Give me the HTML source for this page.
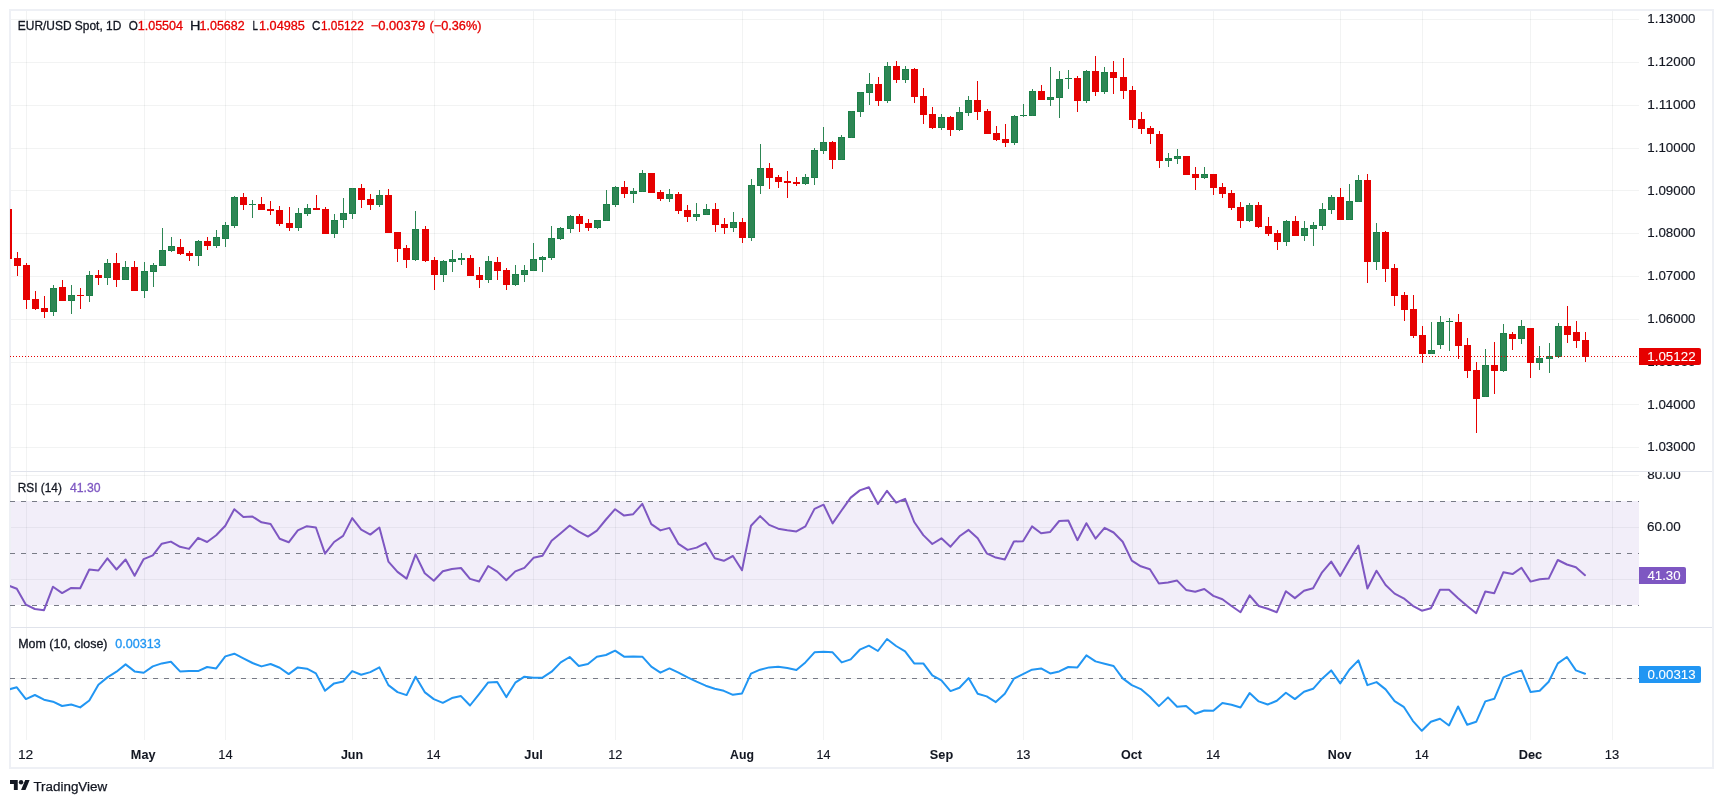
<!DOCTYPE html>
<html><head><meta charset="utf-8"><title>EUR/USD Spot</title>
<style>html,body{margin:0;padding:0;background:#fff}body{width:1723px;height:803px;overflow:hidden}svg{display:block;will-change:transform}text{font-family:"Liberation Sans", sans-serif}</style>
</head><body>
<svg width="1723" height="803" viewBox="0 0 1723 803">
<rect x="0" y="0" width="1723" height="803" fill="#ffffff"/>
<defs><clipPath id="cp"><rect x="10" y="11" width="1629" height="729"/></clipPath><clipPath id="cr"><rect x="1639" y="472" width="74" height="155"/></clipPath></defs>
<g shape-rendering="crispEdges" fill="#2a2e39" fill-opacity="0.06">
<rect x="26" y="11" width="1" height="729"/>
<rect x="144" y="11" width="1" height="729"/>
<rect x="225" y="11" width="1" height="729"/>
<rect x="352" y="11" width="1" height="729"/>
<rect x="434" y="11" width="1" height="729"/>
<rect x="533" y="11" width="1" height="729"/>
<rect x="615" y="11" width="1" height="729"/>
<rect x="742" y="11" width="1" height="729"/>
<rect x="823" y="11" width="1" height="729"/>
<rect x="941" y="11" width="1" height="729"/>
<rect x="1023" y="11" width="1" height="729"/>
<rect x="1132" y="11" width="1" height="729"/>
<rect x="1213" y="11" width="1" height="729"/>
<rect x="1340" y="11" width="1" height="729"/>
<rect x="1422" y="11" width="1" height="729"/>
<rect x="1530" y="11" width="1" height="729"/>
<rect x="1612" y="11" width="1" height="729"/>
<rect x="10" y="19" width="1629" height="1"/>
<rect x="10" y="62" width="1629" height="1"/>
<rect x="10" y="105" width="1629" height="1"/>
<rect x="10" y="148" width="1629" height="1"/>
<rect x="10" y="190" width="1629" height="1"/>
<rect x="10" y="233" width="1629" height="1"/>
<rect x="10" y="276" width="1629" height="1"/>
<rect x="10" y="319" width="1629" height="1"/>
<rect x="10" y="362" width="1629" height="1"/>
<rect x="10" y="404" width="1629" height="1"/>
<rect x="10" y="447" width="1629" height="1"/>
<rect x="10" y="475" width="1629" height="1"/>
<rect x="10" y="527" width="1629" height="1"/>
<rect x="10" y="579" width="1629" height="1"/>
<rect x="10" y="678" width="1629" height="1"/>
</g>
<rect x="10" y="501" width="1629" height="104" fill="#7e57c2" fill-opacity="0.1" shape-rendering="crispEdges"/>
<g shape-rendering="crispEdges" fill="#e0e3eb"><rect x="10" y="471" width="1703" height="1"/><rect x="10" y="627" width="1703" height="1"/></g>
<rect x="10" y="10" width="1703" height="758" fill="none" stroke="#eef0f5" stroke-width="2"/>
<g clip-path="url(#cp)" shape-rendering="crispEdges">
<rect x="8" y="209" width="1" height="50" fill="#e60000"/><rect x="5" y="209" width="7" height="50" fill="#e60000"/>
<rect x="17" y="252" width="1" height="24" fill="#e60000"/><rect x="14" y="258" width="7" height="8" fill="#e60000"/>
<rect x="26" y="263" width="1" height="46" fill="#e60000"/><rect x="23" y="265" width="7" height="35" fill="#e60000"/>
<rect x="35" y="291" width="1" height="19" fill="#e60000"/><rect x="32" y="299" width="7" height="10" fill="#e60000"/>
<rect x="44" y="296" width="1" height="22" fill="#e60000"/><rect x="41" y="308" width="7" height="4" fill="#e60000"/>
<rect x="50" y="288" width="7" height="24" fill="#1b7f47"/>
<rect x="51" y="289" width="5" height="22" fill="#2d8654"/>
<rect x="53" y="285" width="1" height="31" fill="#2d8654"/>
<rect x="62" y="280" width="1" height="21" fill="#e60000"/><rect x="59" y="287" width="7" height="14" fill="#e60000"/>
<rect x="68" y="295" width="7" height="6" fill="#1b7f47"/>
<rect x="69" y="296" width="5" height="4" fill="#2d8654"/>
<rect x="71" y="285" width="1" height="29" fill="#2d8654"/>
<rect x="80" y="288" width="1" height="21" fill="#e60000"/><rect x="77" y="295" width="7" height="1" fill="#e60000"/>
<rect x="86" y="275" width="7" height="21" fill="#1b7f47"/>
<rect x="87" y="276" width="5" height="19" fill="#2d8654"/>
<rect x="89" y="271" width="1" height="31" fill="#2d8654"/>
<rect x="98" y="270" width="1" height="15" fill="#e60000"/><rect x="95" y="275" width="7" height="3" fill="#e60000"/>
<rect x="104" y="263" width="7" height="15" fill="#1b7f47"/>
<rect x="105" y="264" width="5" height="13" fill="#2d8654"/>
<rect x="107" y="259" width="1" height="26" fill="#2d8654"/>
<rect x="116" y="253" width="1" height="34" fill="#e60000"/><rect x="113" y="263" width="7" height="17" fill="#e60000"/>
<rect x="122" y="267" width="7" height="13" fill="#1b7f47"/>
<rect x="123" y="268" width="5" height="11" fill="#2d8654"/>
<rect x="125" y="261" width="1" height="19" fill="#2d8654"/>
<rect x="134" y="261" width="1" height="30" fill="#e60000"/><rect x="131" y="267" width="7" height="24" fill="#e60000"/>
<rect x="141" y="271" width="7" height="20" fill="#1b7f47"/>
<rect x="142" y="272" width="5" height="18" fill="#2d8654"/>
<rect x="144" y="262" width="1" height="36" fill="#2d8654"/>
<rect x="150" y="265" width="7" height="7" fill="#1b7f47"/>
<rect x="151" y="266" width="5" height="5" fill="#2d8654"/>
<rect x="153" y="263" width="1" height="24" fill="#2d8654"/>
<rect x="159" y="250" width="7" height="16" fill="#1b7f47"/>
<rect x="160" y="251" width="5" height="14" fill="#2d8654"/>
<rect x="162" y="228" width="1" height="38" fill="#2d8654"/>
<rect x="168" y="246" width="7" height="5" fill="#1b7f47"/>
<rect x="169" y="247" width="5" height="3" fill="#2d8654"/>
<rect x="171" y="237" width="1" height="15" fill="#2d8654"/>
<rect x="180" y="239" width="1" height="16" fill="#e60000"/><rect x="177" y="247" width="7" height="7" fill="#e60000"/>
<rect x="189" y="251" width="1" height="10" fill="#e60000"/><rect x="186" y="253" width="7" height="3" fill="#e60000"/>
<rect x="195" y="241" width="7" height="15" fill="#1b7f47"/>
<rect x="196" y="242" width="5" height="13" fill="#2d8654"/>
<rect x="198" y="240" width="1" height="26" fill="#2d8654"/>
<rect x="207" y="237" width="1" height="13" fill="#e60000"/><rect x="204" y="241" width="7" height="5" fill="#e60000"/>
<rect x="213" y="237" width="7" height="9" fill="#1b7f47"/>
<rect x="214" y="238" width="5" height="7" fill="#2d8654"/>
<rect x="216" y="230" width="1" height="18" fill="#2d8654"/>
<rect x="222" y="225" width="7" height="14" fill="#1b7f47"/>
<rect x="223" y="226" width="5" height="12" fill="#2d8654"/>
<rect x="225" y="222" width="1" height="25" fill="#2d8654"/>
<rect x="231" y="197" width="7" height="29" fill="#1b7f47"/>
<rect x="232" y="198" width="5" height="27" fill="#2d8654"/>
<rect x="234" y="196" width="1" height="32" fill="#2d8654"/>
<rect x="243" y="193" width="1" height="17" fill="#e60000"/><rect x="240" y="197" width="7" height="8" fill="#e60000"/>
<rect x="249" y="204" width="7" height="1" fill="#1b7f47"/>
<rect x="252" y="200" width="1" height="18" fill="#2d8654"/>
<rect x="261" y="197" width="1" height="13" fill="#e60000"/><rect x="258" y="204" width="7" height="6" fill="#e60000"/>
<rect x="270" y="201" width="1" height="14" fill="#e60000"/><rect x="267" y="209" width="7" height="2" fill="#e60000"/>
<rect x="279" y="206" width="1" height="20" fill="#e60000"/><rect x="276" y="210" width="7" height="14" fill="#e60000"/>
<rect x="289" y="207" width="1" height="24" fill="#e60000"/><rect x="286" y="223" width="7" height="5" fill="#e60000"/>
<rect x="295" y="213" width="7" height="15" fill="#1b7f47"/>
<rect x="296" y="214" width="5" height="13" fill="#2d8654"/>
<rect x="298" y="208" width="1" height="23" fill="#2d8654"/>
<rect x="304" y="208" width="7" height="6" fill="#1b7f47"/>
<rect x="305" y="209" width="5" height="4" fill="#2d8654"/>
<rect x="307" y="204" width="1" height="12" fill="#2d8654"/>
<rect x="316" y="195" width="1" height="15" fill="#e60000"/><rect x="313" y="208" width="7" height="2" fill="#e60000"/>
<rect x="325" y="207" width="1" height="27" fill="#e60000"/><rect x="322" y="209" width="7" height="25" fill="#e60000"/>
<rect x="331" y="220" width="7" height="14" fill="#1b7f47"/>
<rect x="332" y="221" width="5" height="12" fill="#2d8654"/>
<rect x="334" y="214" width="1" height="24" fill="#2d8654"/>
<rect x="340" y="213" width="7" height="7" fill="#1b7f47"/>
<rect x="341" y="214" width="5" height="5" fill="#2d8654"/>
<rect x="343" y="198" width="1" height="30" fill="#2d8654"/>
<rect x="349" y="188" width="7" height="26" fill="#1b7f47"/>
<rect x="350" y="189" width="5" height="24" fill="#2d8654"/>
<rect x="352" y="188" width="1" height="31" fill="#2d8654"/>
<rect x="361" y="184" width="1" height="24" fill="#e60000"/><rect x="358" y="188" width="7" height="12" fill="#e60000"/>
<rect x="370" y="194" width="1" height="16" fill="#e60000"/><rect x="367" y="199" width="7" height="6" fill="#e60000"/>
<rect x="376" y="195" width="7" height="10" fill="#1b7f47"/>
<rect x="377" y="196" width="5" height="8" fill="#2d8654"/>
<rect x="379" y="190" width="1" height="17" fill="#2d8654"/>
<rect x="388" y="189" width="1" height="44" fill="#e60000"/><rect x="385" y="195" width="7" height="38" fill="#e60000"/>
<rect x="397" y="232" width="1" height="30" fill="#e60000"/><rect x="394" y="232" width="7" height="17" fill="#e60000"/>
<rect x="406" y="245" width="1" height="23" fill="#e60000"/><rect x="403" y="248" width="7" height="12" fill="#e60000"/>
<rect x="412" y="229" width="7" height="31" fill="#1b7f47"/>
<rect x="413" y="230" width="5" height="29" fill="#2d8654"/>
<rect x="415" y="211" width="1" height="50" fill="#2d8654"/>
<rect x="425" y="226" width="1" height="36" fill="#e60000"/><rect x="422" y="229" width="7" height="32" fill="#e60000"/>
<rect x="434" y="257" width="1" height="33" fill="#e60000"/><rect x="431" y="260" width="7" height="15" fill="#e60000"/>
<rect x="440" y="261" width="7" height="14" fill="#1b7f47"/>
<rect x="441" y="262" width="5" height="12" fill="#2d8654"/>
<rect x="443" y="260" width="1" height="22" fill="#2d8654"/>
<rect x="449" y="259" width="7" height="3" fill="#1b7f47"/>
<rect x="450" y="260" width="5" height="1" fill="#2d8654"/>
<rect x="452" y="250" width="1" height="22" fill="#2d8654"/>
<rect x="458" y="258" width="7" height="2" fill="#1b7f47"/>
<rect x="461" y="253" width="1" height="12" fill="#2d8654"/>
<rect x="470" y="255" width="1" height="21" fill="#e60000"/><rect x="467" y="258" width="7" height="18" fill="#e60000"/>
<rect x="479" y="267" width="1" height="21" fill="#e60000"/><rect x="476" y="275" width="7" height="5" fill="#e60000"/>
<rect x="485" y="261" width="7" height="19" fill="#1b7f47"/>
<rect x="486" y="262" width="5" height="17" fill="#2d8654"/>
<rect x="488" y="256" width="1" height="27" fill="#2d8654"/>
<rect x="497" y="257" width="1" height="23" fill="#e60000"/><rect x="494" y="262" width="7" height="9" fill="#e60000"/>
<rect x="506" y="268" width="1" height="22" fill="#e60000"/><rect x="503" y="270" width="7" height="15" fill="#e60000"/>
<rect x="512" y="274" width="7" height="11" fill="#1b7f47"/>
<rect x="513" y="275" width="5" height="9" fill="#2d8654"/>
<rect x="515" y="265" width="1" height="21" fill="#2d8654"/>
<rect x="521" y="270" width="7" height="5" fill="#1b7f47"/>
<rect x="522" y="271" width="5" height="3" fill="#2d8654"/>
<rect x="524" y="265" width="1" height="17" fill="#2d8654"/>
<rect x="530" y="259" width="7" height="12" fill="#1b7f47"/>
<rect x="531" y="260" width="5" height="10" fill="#2d8654"/>
<rect x="533" y="243" width="1" height="28" fill="#2d8654"/>
<rect x="539" y="257" width="7" height="3" fill="#1b7f47"/>
<rect x="540" y="258" width="5" height="1" fill="#2d8654"/>
<rect x="542" y="256" width="1" height="16" fill="#2d8654"/>
<rect x="548" y="238" width="7" height="20" fill="#1b7f47"/>
<rect x="549" y="239" width="5" height="18" fill="#2d8654"/>
<rect x="551" y="226" width="1" height="34" fill="#2d8654"/>
<rect x="557" y="228" width="7" height="11" fill="#1b7f47"/>
<rect x="558" y="229" width="5" height="9" fill="#2d8654"/>
<rect x="560" y="227" width="1" height="13" fill="#2d8654"/>
<rect x="567" y="216" width="7" height="13" fill="#1b7f47"/>
<rect x="568" y="217" width="5" height="11" fill="#2d8654"/>
<rect x="570" y="215" width="1" height="18" fill="#2d8654"/>
<rect x="579" y="214" width="1" height="18" fill="#e60000"/><rect x="576" y="216" width="7" height="8" fill="#e60000"/>
<rect x="588" y="219" width="1" height="12" fill="#e60000"/><rect x="585" y="223" width="7" height="5" fill="#e60000"/>
<rect x="594" y="220" width="7" height="8" fill="#1b7f47"/>
<rect x="595" y="221" width="5" height="6" fill="#2d8654"/>
<rect x="597" y="220" width="1" height="9" fill="#2d8654"/>
<rect x="603" y="204" width="7" height="17" fill="#1b7f47"/>
<rect x="604" y="205" width="5" height="15" fill="#2d8654"/>
<rect x="606" y="190" width="1" height="31" fill="#2d8654"/>
<rect x="612" y="187" width="7" height="18" fill="#1b7f47"/>
<rect x="613" y="188" width="5" height="16" fill="#2d8654"/>
<rect x="615" y="186" width="1" height="21" fill="#2d8654"/>
<rect x="624" y="181" width="1" height="17" fill="#e60000"/><rect x="621" y="187" width="7" height="7" fill="#e60000"/>
<rect x="630" y="191" width="7" height="3" fill="#1b7f47"/>
<rect x="631" y="192" width="5" height="1" fill="#2d8654"/>
<rect x="633" y="188" width="1" height="15" fill="#2d8654"/>
<rect x="639" y="173" width="7" height="19" fill="#1b7f47"/>
<rect x="640" y="174" width="5" height="17" fill="#2d8654"/>
<rect x="642" y="170" width="1" height="22" fill="#2d8654"/>
<rect x="651" y="173" width="1" height="20" fill="#e60000"/><rect x="648" y="173" width="7" height="20" fill="#e60000"/>
<rect x="660" y="190" width="1" height="11" fill="#e60000"/><rect x="657" y="192" width="7" height="7" fill="#e60000"/>
<rect x="666" y="194" width="7" height="5" fill="#1b7f47"/>
<rect x="667" y="195" width="5" height="3" fill="#2d8654"/>
<rect x="669" y="189" width="1" height="13" fill="#2d8654"/>
<rect x="678" y="192" width="1" height="22" fill="#e60000"/><rect x="675" y="194" width="7" height="17" fill="#e60000"/>
<rect x="687" y="205" width="1" height="17" fill="#e60000"/><rect x="684" y="210" width="7" height="7" fill="#e60000"/>
<rect x="693" y="214" width="7" height="3" fill="#1b7f47"/>
<rect x="694" y="215" width="5" height="1" fill="#2d8654"/>
<rect x="696" y="203" width="1" height="18" fill="#2d8654"/>
<rect x="703" y="209" width="7" height="6" fill="#1b7f47"/>
<rect x="704" y="210" width="5" height="4" fill="#2d8654"/>
<rect x="706" y="204" width="1" height="11" fill="#2d8654"/>
<rect x="715" y="203" width="1" height="29" fill="#e60000"/><rect x="712" y="209" width="7" height="16" fill="#e60000"/>
<rect x="724" y="218" width="1" height="16" fill="#e60000"/><rect x="721" y="224" width="7" height="4" fill="#e60000"/>
<rect x="730" y="222" width="7" height="6" fill="#1b7f47"/>
<rect x="731" y="223" width="5" height="4" fill="#2d8654"/>
<rect x="733" y="212" width="1" height="20" fill="#2d8654"/>
<rect x="742" y="218" width="1" height="25" fill="#e60000"/><rect x="739" y="222" width="7" height="16" fill="#e60000"/>
<rect x="748" y="185" width="7" height="53" fill="#1b7f47"/>
<rect x="749" y="186" width="5" height="51" fill="#2d8654"/>
<rect x="751" y="179" width="1" height="62" fill="#2d8654"/>
<rect x="757" y="168" width="7" height="18" fill="#1b7f47"/>
<rect x="758" y="169" width="5" height="16" fill="#2d8654"/>
<rect x="760" y="144" width="1" height="50" fill="#2d8654"/>
<rect x="769" y="163" width="1" height="26" fill="#e60000"/><rect x="766" y="168" width="7" height="10" fill="#e60000"/>
<rect x="778" y="175" width="1" height="13" fill="#e60000"/><rect x="775" y="177" width="7" height="5" fill="#e60000"/>
<rect x="787" y="171" width="1" height="27" fill="#e60000"/><rect x="784" y="181" width="7" height="2" fill="#e60000"/>
<rect x="796" y="177" width="1" height="9" fill="#e60000"/><rect x="793" y="182" width="7" height="2" fill="#e60000"/>
<rect x="802" y="177" width="7" height="7" fill="#1b7f47"/>
<rect x="803" y="178" width="5" height="5" fill="#2d8654"/>
<rect x="805" y="174" width="1" height="11" fill="#2d8654"/>
<rect x="811" y="150" width="7" height="28" fill="#1b7f47"/>
<rect x="812" y="151" width="5" height="26" fill="#2d8654"/>
<rect x="814" y="148" width="1" height="37" fill="#2d8654"/>
<rect x="820" y="142" width="7" height="9" fill="#1b7f47"/>
<rect x="821" y="143" width="5" height="7" fill="#2d8654"/>
<rect x="823" y="127" width="1" height="27" fill="#2d8654"/>
<rect x="832" y="141" width="1" height="28" fill="#e60000"/><rect x="829" y="142" width="7" height="18" fill="#e60000"/>
<rect x="838" y="137" width="7" height="23" fill="#1b7f47"/>
<rect x="839" y="138" width="5" height="21" fill="#2d8654"/>
<rect x="841" y="135" width="1" height="25" fill="#2d8654"/>
<rect x="848" y="111" width="7" height="27" fill="#1b7f47"/>
<rect x="849" y="112" width="5" height="25" fill="#2d8654"/>
<rect x="851" y="111" width="1" height="27" fill="#2d8654"/>
<rect x="857" y="92" width="7" height="20" fill="#1b7f47"/>
<rect x="858" y="93" width="5" height="18" fill="#2d8654"/>
<rect x="860" y="92" width="1" height="25" fill="#2d8654"/>
<rect x="866" y="84" width="7" height="9" fill="#1b7f47"/>
<rect x="867" y="85" width="5" height="7" fill="#2d8654"/>
<rect x="869" y="73" width="1" height="32" fill="#2d8654"/>
<rect x="878" y="77" width="1" height="29" fill="#e60000"/><rect x="875" y="84" width="7" height="17" fill="#e60000"/>
<rect x="884" y="66" width="7" height="35" fill="#1b7f47"/>
<rect x="885" y="67" width="5" height="33" fill="#2d8654"/>
<rect x="887" y="62" width="1" height="41" fill="#2d8654"/>
<rect x="896" y="61" width="1" height="22" fill="#e60000"/><rect x="893" y="66" width="7" height="14" fill="#e60000"/>
<rect x="902" y="69" width="7" height="11" fill="#1b7f47"/>
<rect x="903" y="70" width="5" height="9" fill="#2d8654"/>
<rect x="905" y="66" width="1" height="17" fill="#2d8654"/>
<rect x="914" y="68" width="1" height="35" fill="#e60000"/><rect x="911" y="69" width="7" height="28" fill="#e60000"/>
<rect x="923" y="88" width="1" height="36" fill="#e60000"/><rect x="920" y="96" width="7" height="19" fill="#e60000"/>
<rect x="932" y="107" width="1" height="22" fill="#e60000"/><rect x="929" y="114" width="7" height="14" fill="#e60000"/>
<rect x="938" y="117" width="7" height="11" fill="#1b7f47"/>
<rect x="939" y="118" width="5" height="9" fill="#2d8654"/>
<rect x="941" y="114" width="1" height="16" fill="#2d8654"/>
<rect x="950" y="116" width="1" height="20" fill="#e60000"/><rect x="947" y="117" width="7" height="13" fill="#e60000"/>
<rect x="956" y="112" width="7" height="18" fill="#1b7f47"/>
<rect x="957" y="113" width="5" height="16" fill="#2d8654"/>
<rect x="959" y="107" width="1" height="24" fill="#2d8654"/>
<rect x="965" y="100" width="7" height="13" fill="#1b7f47"/>
<rect x="966" y="101" width="5" height="11" fill="#2d8654"/>
<rect x="968" y="96" width="1" height="20" fill="#2d8654"/>
<rect x="977" y="81" width="1" height="39" fill="#e60000"/><rect x="974" y="100" width="7" height="12" fill="#e60000"/>
<rect x="987" y="109" width="1" height="25" fill="#e60000"/><rect x="984" y="111" width="7" height="23" fill="#e60000"/>
<rect x="996" y="126" width="1" height="15" fill="#e60000"/><rect x="993" y="133" width="7" height="7" fill="#e60000"/>
<rect x="1005" y="124" width="1" height="23" fill="#e60000"/><rect x="1002" y="139" width="7" height="4" fill="#e60000"/>
<rect x="1011" y="116" width="7" height="27" fill="#1b7f47"/>
<rect x="1012" y="117" width="5" height="25" fill="#2d8654"/>
<rect x="1014" y="115" width="1" height="30" fill="#2d8654"/>
<rect x="1020" y="115" width="7" height="1" fill="#1b7f47"/>
<rect x="1023" y="104" width="1" height="13" fill="#2d8654"/>
<rect x="1029" y="91" width="7" height="25" fill="#1b7f47"/>
<rect x="1030" y="92" width="5" height="23" fill="#2d8654"/>
<rect x="1032" y="89" width="1" height="27" fill="#2d8654"/>
<rect x="1041" y="85" width="1" height="15" fill="#e60000"/><rect x="1038" y="91" width="7" height="9" fill="#e60000"/>
<rect x="1047" y="97" width="7" height="3" fill="#1b7f47"/>
<rect x="1048" y="98" width="5" height="1" fill="#2d8654"/>
<rect x="1050" y="67" width="1" height="39" fill="#2d8654"/>
<rect x="1056" y="79" width="7" height="19" fill="#1b7f47"/>
<rect x="1057" y="80" width="5" height="17" fill="#2d8654"/>
<rect x="1059" y="71" width="1" height="47" fill="#2d8654"/>
<rect x="1065" y="78" width="7" height="1" fill="#1b7f47"/>
<rect x="1068" y="70" width="1" height="19" fill="#2d8654"/>
<rect x="1077" y="76" width="1" height="36" fill="#e60000"/><rect x="1074" y="78" width="7" height="23" fill="#e60000"/>
<rect x="1083" y="71" width="7" height="30" fill="#1b7f47"/>
<rect x="1084" y="72" width="5" height="28" fill="#2d8654"/>
<rect x="1086" y="70" width="1" height="33" fill="#2d8654"/>
<rect x="1095" y="56" width="1" height="40" fill="#e60000"/><rect x="1092" y="71" width="7" height="21" fill="#e60000"/>
<rect x="1101" y="72" width="7" height="20" fill="#1b7f47"/>
<rect x="1102" y="73" width="5" height="18" fill="#2d8654"/>
<rect x="1104" y="67" width="1" height="27" fill="#2d8654"/>
<rect x="1113" y="61" width="1" height="33" fill="#e60000"/><rect x="1110" y="72" width="7" height="6" fill="#e60000"/>
<rect x="1123" y="58" width="1" height="41" fill="#e60000"/><rect x="1120" y="77" width="7" height="14" fill="#e60000"/>
<rect x="1132" y="86" width="1" height="42" fill="#e60000"/><rect x="1129" y="90" width="7" height="30" fill="#e60000"/>
<rect x="1141" y="112" width="1" height="22" fill="#e60000"/><rect x="1138" y="119" width="7" height="10" fill="#e60000"/>
<rect x="1150" y="126" width="1" height="18" fill="#e60000"/><rect x="1147" y="128" width="7" height="6" fill="#e60000"/>
<rect x="1159" y="131" width="1" height="37" fill="#e60000"/><rect x="1156" y="134" width="7" height="27" fill="#e60000"/>
<rect x="1165" y="158" width="7" height="3" fill="#1b7f47"/>
<rect x="1166" y="159" width="5" height="1" fill="#2d8654"/>
<rect x="1168" y="153" width="1" height="14" fill="#2d8654"/>
<rect x="1174" y="156" width="7" height="3" fill="#1b7f47"/>
<rect x="1175" y="157" width="5" height="1" fill="#2d8654"/>
<rect x="1177" y="149" width="1" height="15" fill="#2d8654"/>
<rect x="1186" y="156" width="1" height="19" fill="#e60000"/><rect x="1183" y="156" width="7" height="19" fill="#e60000"/>
<rect x="1195" y="167" width="1" height="23" fill="#e60000"/><rect x="1192" y="174" width="7" height="4" fill="#e60000"/>
<rect x="1201" y="174" width="7" height="4" fill="#1b7f47"/>
<rect x="1202" y="175" width="5" height="2" fill="#2d8654"/>
<rect x="1204" y="167" width="1" height="12" fill="#2d8654"/>
<rect x="1213" y="174" width="1" height="21" fill="#e60000"/><rect x="1210" y="174" width="7" height="14" fill="#e60000"/>
<rect x="1222" y="183" width="1" height="15" fill="#e60000"/><rect x="1219" y="187" width="7" height="7" fill="#e60000"/>
<rect x="1231" y="190" width="1" height="20" fill="#e60000"/><rect x="1228" y="193" width="7" height="15" fill="#e60000"/>
<rect x="1240" y="202" width="1" height="26" fill="#e60000"/><rect x="1237" y="207" width="7" height="14" fill="#e60000"/>
<rect x="1246" y="205" width="7" height="16" fill="#1b7f47"/>
<rect x="1247" y="206" width="5" height="14" fill="#2d8654"/>
<rect x="1249" y="203" width="1" height="19" fill="#2d8654"/>
<rect x="1258" y="202" width="1" height="26" fill="#e60000"/><rect x="1255" y="205" width="7" height="22" fill="#e60000"/>
<rect x="1268" y="217" width="1" height="19" fill="#e60000"/><rect x="1265" y="226" width="7" height="8" fill="#e60000"/>
<rect x="1277" y="230" width="1" height="20" fill="#e60000"/><rect x="1274" y="233" width="7" height="9" fill="#e60000"/>
<rect x="1283" y="221" width="7" height="21" fill="#1b7f47"/>
<rect x="1284" y="222" width="5" height="19" fill="#2d8654"/>
<rect x="1286" y="220" width="1" height="26" fill="#2d8654"/>
<rect x="1295" y="216" width="1" height="20" fill="#e60000"/><rect x="1292" y="221" width="7" height="15" fill="#e60000"/>
<rect x="1301" y="228" width="7" height="8" fill="#1b7f47"/>
<rect x="1302" y="229" width="5" height="6" fill="#2d8654"/>
<rect x="1304" y="221" width="1" height="20" fill="#2d8654"/>
<rect x="1310" y="225" width="7" height="4" fill="#1b7f47"/>
<rect x="1311" y="226" width="5" height="2" fill="#2d8654"/>
<rect x="1313" y="222" width="1" height="24" fill="#2d8654"/>
<rect x="1319" y="209" width="7" height="17" fill="#1b7f47"/>
<rect x="1320" y="210" width="5" height="15" fill="#2d8654"/>
<rect x="1322" y="203" width="1" height="27" fill="#2d8654"/>
<rect x="1328" y="197" width="7" height="13" fill="#1b7f47"/>
<rect x="1329" y="198" width="5" height="11" fill="#2d8654"/>
<rect x="1331" y="195" width="1" height="19" fill="#2d8654"/>
<rect x="1340" y="188" width="1" height="32" fill="#e60000"/><rect x="1337" y="197" width="7" height="23" fill="#e60000"/>
<rect x="1346" y="201" width="7" height="19" fill="#1b7f47"/>
<rect x="1347" y="202" width="5" height="17" fill="#2d8654"/>
<rect x="1349" y="184" width="1" height="36" fill="#2d8654"/>
<rect x="1355" y="180" width="7" height="22" fill="#1b7f47"/>
<rect x="1356" y="181" width="5" height="20" fill="#2d8654"/>
<rect x="1358" y="175" width="1" height="27" fill="#2d8654"/>
<rect x="1367" y="174" width="1" height="109" fill="#e60000"/><rect x="1364" y="180" width="7" height="82" fill="#e60000"/>
<rect x="1373" y="232" width="7" height="30" fill="#1b7f47"/>
<rect x="1374" y="233" width="5" height="28" fill="#2d8654"/>
<rect x="1376" y="223" width="1" height="47" fill="#2d8654"/>
<rect x="1385" y="231" width="1" height="51" fill="#e60000"/><rect x="1382" y="232" width="7" height="37" fill="#e60000"/>
<rect x="1394" y="264" width="1" height="42" fill="#e60000"/><rect x="1391" y="268" width="7" height="28" fill="#e60000"/>
<rect x="1404" y="292" width="1" height="29" fill="#e60000"/><rect x="1401" y="295" width="7" height="15" fill="#e60000"/>
<rect x="1413" y="295" width="1" height="43" fill="#e60000"/><rect x="1410" y="309" width="7" height="27" fill="#e60000"/>
<rect x="1422" y="326" width="1" height="37" fill="#e60000"/><rect x="1419" y="335" width="7" height="19" fill="#e60000"/>
<rect x="1428" y="350" width="7" height="4" fill="#1b7f47"/>
<rect x="1429" y="351" width="5" height="2" fill="#2d8654"/>
<rect x="1431" y="322" width="1" height="32" fill="#2d8654"/>
<rect x="1437" y="322" width="7" height="23" fill="#1b7f47"/>
<rect x="1438" y="323" width="5" height="21" fill="#2d8654"/>
<rect x="1440" y="316" width="1" height="33" fill="#2d8654"/>
<rect x="1446" y="321" width="7" height="1" fill="#1b7f47"/>
<rect x="1449" y="318" width="1" height="33" fill="#2d8654"/>
<rect x="1458" y="314" width="1" height="45" fill="#e60000"/><rect x="1455" y="322" width="7" height="24" fill="#e60000"/>
<rect x="1467" y="338" width="1" height="40" fill="#e60000"/><rect x="1464" y="345" width="7" height="26" fill="#e60000"/>
<rect x="1476" y="362" width="1" height="71" fill="#e60000"/><rect x="1473" y="370" width="7" height="29" fill="#e60000"/>
<rect x="1482" y="365" width="7" height="32" fill="#1b7f47"/>
<rect x="1483" y="366" width="5" height="30" fill="#2d8654"/>
<rect x="1485" y="349" width="1" height="48" fill="#2d8654"/>
<rect x="1494" y="342" width="1" height="52" fill="#e60000"/><rect x="1491" y="365" width="7" height="6" fill="#e60000"/>
<rect x="1500" y="333" width="7" height="38" fill="#1b7f47"/>
<rect x="1501" y="334" width="5" height="36" fill="#2d8654"/>
<rect x="1503" y="324" width="1" height="48" fill="#2d8654"/>
<rect x="1512" y="332" width="1" height="18" fill="#e60000"/><rect x="1509" y="334" width="7" height="5" fill="#e60000"/>
<rect x="1518" y="326" width="7" height="13" fill="#1b7f47"/>
<rect x="1519" y="327" width="5" height="11" fill="#2d8654"/>
<rect x="1521" y="320" width="1" height="24" fill="#2d8654"/>
<rect x="1530" y="328" width="1" height="50" fill="#e60000"/><rect x="1527" y="328" width="7" height="35" fill="#e60000"/>
<rect x="1536" y="358" width="7" height="5" fill="#1b7f47"/>
<rect x="1537" y="359" width="5" height="3" fill="#2d8654"/>
<rect x="1539" y="346" width="1" height="24" fill="#2d8654"/>
<rect x="1546" y="356" width="7" height="3" fill="#1b7f47"/>
<rect x="1547" y="357" width="5" height="1" fill="#2d8654"/>
<rect x="1549" y="343" width="1" height="30" fill="#2d8654"/>
<rect x="1555" y="326" width="7" height="31" fill="#1b7f47"/>
<rect x="1556" y="327" width="5" height="29" fill="#2d8654"/>
<rect x="1558" y="323" width="1" height="35" fill="#2d8654"/>
<rect x="1567" y="306" width="1" height="37" fill="#e60000"/><rect x="1564" y="326" width="7" height="9" fill="#e60000"/>
<rect x="1576" y="321" width="1" height="27" fill="#e60000"/><rect x="1573" y="332" width="7" height="9" fill="#e60000"/>
<rect x="1585" y="332" width="1" height="30" fill="#e60000"/><rect x="1582" y="340" width="7" height="17" fill="#e60000"/>
</g>
<g shape-rendering="crispEdges" fill="#e60000">
<rect x="10" y="356" width="1" height="1"/><rect x="13" y="356" width="1" height="1"/><rect x="16" y="356" width="1" height="1"/><rect x="19" y="356" width="1" height="1"/><rect x="22" y="356" width="1" height="1"/><rect x="25" y="356" width="1" height="1"/><rect x="28" y="356" width="1" height="1"/><rect x="31" y="356" width="1" height="1"/><rect x="34" y="356" width="1" height="1"/><rect x="37" y="356" width="1" height="1"/><rect x="40" y="356" width="1" height="1"/><rect x="43" y="356" width="1" height="1"/><rect x="46" y="356" width="1" height="1"/><rect x="49" y="356" width="1" height="1"/><rect x="52" y="356" width="1" height="1"/><rect x="55" y="356" width="1" height="1"/><rect x="58" y="356" width="1" height="1"/><rect x="61" y="356" width="1" height="1"/><rect x="64" y="356" width="1" height="1"/><rect x="67" y="356" width="1" height="1"/><rect x="70" y="356" width="1" height="1"/><rect x="73" y="356" width="1" height="1"/><rect x="76" y="356" width="1" height="1"/><rect x="79" y="356" width="1" height="1"/><rect x="82" y="356" width="1" height="1"/><rect x="85" y="356" width="1" height="1"/><rect x="88" y="356" width="1" height="1"/><rect x="91" y="356" width="1" height="1"/><rect x="94" y="356" width="1" height="1"/><rect x="97" y="356" width="1" height="1"/><rect x="100" y="356" width="1" height="1"/><rect x="103" y="356" width="1" height="1"/><rect x="106" y="356" width="1" height="1"/><rect x="109" y="356" width="1" height="1"/><rect x="112" y="356" width="1" height="1"/><rect x="115" y="356" width="1" height="1"/><rect x="118" y="356" width="1" height="1"/><rect x="121" y="356" width="1" height="1"/><rect x="124" y="356" width="1" height="1"/><rect x="127" y="356" width="1" height="1"/><rect x="130" y="356" width="1" height="1"/><rect x="133" y="356" width="1" height="1"/><rect x="136" y="356" width="1" height="1"/><rect x="139" y="356" width="1" height="1"/><rect x="142" y="356" width="1" height="1"/><rect x="145" y="356" width="1" height="1"/><rect x="148" y="356" width="1" height="1"/><rect x="151" y="356" width="1" height="1"/><rect x="154" y="356" width="1" height="1"/><rect x="157" y="356" width="1" height="1"/><rect x="160" y="356" width="1" height="1"/><rect x="163" y="356" width="1" height="1"/><rect x="166" y="356" width="1" height="1"/><rect x="169" y="356" width="1" height="1"/><rect x="172" y="356" width="1" height="1"/><rect x="175" y="356" width="1" height="1"/><rect x="178" y="356" width="1" height="1"/><rect x="181" y="356" width="1" height="1"/><rect x="184" y="356" width="1" height="1"/><rect x="187" y="356" width="1" height="1"/><rect x="190" y="356" width="1" height="1"/><rect x="193" y="356" width="1" height="1"/><rect x="196" y="356" width="1" height="1"/><rect x="199" y="356" width="1" height="1"/><rect x="202" y="356" width="1" height="1"/><rect x="205" y="356" width="1" height="1"/><rect x="208" y="356" width="1" height="1"/><rect x="211" y="356" width="1" height="1"/><rect x="214" y="356" width="1" height="1"/><rect x="217" y="356" width="1" height="1"/><rect x="220" y="356" width="1" height="1"/><rect x="223" y="356" width="1" height="1"/><rect x="226" y="356" width="1" height="1"/><rect x="229" y="356" width="1" height="1"/><rect x="232" y="356" width="1" height="1"/><rect x="235" y="356" width="1" height="1"/><rect x="238" y="356" width="1" height="1"/><rect x="241" y="356" width="1" height="1"/><rect x="244" y="356" width="1" height="1"/><rect x="247" y="356" width="1" height="1"/><rect x="250" y="356" width="1" height="1"/><rect x="253" y="356" width="1" height="1"/><rect x="256" y="356" width="1" height="1"/><rect x="259" y="356" width="1" height="1"/><rect x="262" y="356" width="1" height="1"/><rect x="265" y="356" width="1" height="1"/><rect x="268" y="356" width="1" height="1"/><rect x="271" y="356" width="1" height="1"/><rect x="274" y="356" width="1" height="1"/><rect x="277" y="356" width="1" height="1"/><rect x="280" y="356" width="1" height="1"/><rect x="283" y="356" width="1" height="1"/><rect x="286" y="356" width="1" height="1"/><rect x="289" y="356" width="1" height="1"/><rect x="292" y="356" width="1" height="1"/><rect x="295" y="356" width="1" height="1"/><rect x="298" y="356" width="1" height="1"/><rect x="301" y="356" width="1" height="1"/><rect x="304" y="356" width="1" height="1"/><rect x="307" y="356" width="1" height="1"/><rect x="310" y="356" width="1" height="1"/><rect x="313" y="356" width="1" height="1"/><rect x="316" y="356" width="1" height="1"/><rect x="319" y="356" width="1" height="1"/><rect x="322" y="356" width="1" height="1"/><rect x="325" y="356" width="1" height="1"/><rect x="328" y="356" width="1" height="1"/><rect x="331" y="356" width="1" height="1"/><rect x="334" y="356" width="1" height="1"/><rect x="337" y="356" width="1" height="1"/><rect x="340" y="356" width="1" height="1"/><rect x="343" y="356" width="1" height="1"/><rect x="346" y="356" width="1" height="1"/><rect x="349" y="356" width="1" height="1"/><rect x="352" y="356" width="1" height="1"/><rect x="355" y="356" width="1" height="1"/><rect x="358" y="356" width="1" height="1"/><rect x="361" y="356" width="1" height="1"/><rect x="364" y="356" width="1" height="1"/><rect x="367" y="356" width="1" height="1"/><rect x="370" y="356" width="1" height="1"/><rect x="373" y="356" width="1" height="1"/><rect x="376" y="356" width="1" height="1"/><rect x="379" y="356" width="1" height="1"/><rect x="382" y="356" width="1" height="1"/><rect x="385" y="356" width="1" height="1"/><rect x="388" y="356" width="1" height="1"/><rect x="391" y="356" width="1" height="1"/><rect x="394" y="356" width="1" height="1"/><rect x="397" y="356" width="1" height="1"/><rect x="400" y="356" width="1" height="1"/><rect x="403" y="356" width="1" height="1"/><rect x="406" y="356" width="1" height="1"/><rect x="409" y="356" width="1" height="1"/><rect x="412" y="356" width="1" height="1"/><rect x="415" y="356" width="1" height="1"/><rect x="418" y="356" width="1" height="1"/><rect x="421" y="356" width="1" height="1"/><rect x="424" y="356" width="1" height="1"/><rect x="427" y="356" width="1" height="1"/><rect x="430" y="356" width="1" height="1"/><rect x="433" y="356" width="1" height="1"/><rect x="436" y="356" width="1" height="1"/><rect x="439" y="356" width="1" height="1"/><rect x="442" y="356" width="1" height="1"/><rect x="445" y="356" width="1" height="1"/><rect x="448" y="356" width="1" height="1"/><rect x="451" y="356" width="1" height="1"/><rect x="454" y="356" width="1" height="1"/><rect x="457" y="356" width="1" height="1"/><rect x="460" y="356" width="1" height="1"/><rect x="463" y="356" width="1" height="1"/><rect x="466" y="356" width="1" height="1"/><rect x="469" y="356" width="1" height="1"/><rect x="472" y="356" width="1" height="1"/><rect x="475" y="356" width="1" height="1"/><rect x="478" y="356" width="1" height="1"/><rect x="481" y="356" width="1" height="1"/><rect x="484" y="356" width="1" height="1"/><rect x="487" y="356" width="1" height="1"/><rect x="490" y="356" width="1" height="1"/><rect x="493" y="356" width="1" height="1"/><rect x="496" y="356" width="1" height="1"/><rect x="499" y="356" width="1" height="1"/><rect x="502" y="356" width="1" height="1"/><rect x="505" y="356" width="1" height="1"/><rect x="508" y="356" width="1" height="1"/><rect x="511" y="356" width="1" height="1"/><rect x="514" y="356" width="1" height="1"/><rect x="517" y="356" width="1" height="1"/><rect x="520" y="356" width="1" height="1"/><rect x="523" y="356" width="1" height="1"/><rect x="526" y="356" width="1" height="1"/><rect x="529" y="356" width="1" height="1"/><rect x="532" y="356" width="1" height="1"/><rect x="535" y="356" width="1" height="1"/><rect x="538" y="356" width="1" height="1"/><rect x="541" y="356" width="1" height="1"/><rect x="544" y="356" width="1" height="1"/><rect x="547" y="356" width="1" height="1"/><rect x="550" y="356" width="1" height="1"/><rect x="553" y="356" width="1" height="1"/><rect x="556" y="356" width="1" height="1"/><rect x="559" y="356" width="1" height="1"/><rect x="562" y="356" width="1" height="1"/><rect x="565" y="356" width="1" height="1"/><rect x="568" y="356" width="1" height="1"/><rect x="571" y="356" width="1" height="1"/><rect x="574" y="356" width="1" height="1"/><rect x="577" y="356" width="1" height="1"/><rect x="580" y="356" width="1" height="1"/><rect x="583" y="356" width="1" height="1"/><rect x="586" y="356" width="1" height="1"/><rect x="589" y="356" width="1" height="1"/><rect x="592" y="356" width="1" height="1"/><rect x="595" y="356" width="1" height="1"/><rect x="598" y="356" width="1" height="1"/><rect x="601" y="356" width="1" height="1"/><rect x="604" y="356" width="1" height="1"/><rect x="607" y="356" width="1" height="1"/><rect x="610" y="356" width="1" height="1"/><rect x="613" y="356" width="1" height="1"/><rect x="616" y="356" width="1" height="1"/><rect x="619" y="356" width="1" height="1"/><rect x="622" y="356" width="1" height="1"/><rect x="625" y="356" width="1" height="1"/><rect x="628" y="356" width="1" height="1"/><rect x="631" y="356" width="1" height="1"/><rect x="634" y="356" width="1" height="1"/><rect x="637" y="356" width="1" height="1"/><rect x="640" y="356" width="1" height="1"/><rect x="643" y="356" width="1" height="1"/><rect x="646" y="356" width="1" height="1"/><rect x="649" y="356" width="1" height="1"/><rect x="652" y="356" width="1" height="1"/><rect x="655" y="356" width="1" height="1"/><rect x="658" y="356" width="1" height="1"/><rect x="661" y="356" width="1" height="1"/><rect x="664" y="356" width="1" height="1"/><rect x="667" y="356" width="1" height="1"/><rect x="670" y="356" width="1" height="1"/><rect x="673" y="356" width="1" height="1"/><rect x="676" y="356" width="1" height="1"/><rect x="679" y="356" width="1" height="1"/><rect x="682" y="356" width="1" height="1"/><rect x="685" y="356" width="1" height="1"/><rect x="688" y="356" width="1" height="1"/><rect x="691" y="356" width="1" height="1"/><rect x="694" y="356" width="1" height="1"/><rect x="697" y="356" width="1" height="1"/><rect x="700" y="356" width="1" height="1"/><rect x="703" y="356" width="1" height="1"/><rect x="706" y="356" width="1" height="1"/><rect x="709" y="356" width="1" height="1"/><rect x="712" y="356" width="1" height="1"/><rect x="715" y="356" width="1" height="1"/><rect x="718" y="356" width="1" height="1"/><rect x="721" y="356" width="1" height="1"/><rect x="724" y="356" width="1" height="1"/><rect x="727" y="356" width="1" height="1"/><rect x="730" y="356" width="1" height="1"/><rect x="733" y="356" width="1" height="1"/><rect x="736" y="356" width="1" height="1"/><rect x="739" y="356" width="1" height="1"/><rect x="742" y="356" width="1" height="1"/><rect x="745" y="356" width="1" height="1"/><rect x="748" y="356" width="1" height="1"/><rect x="751" y="356" width="1" height="1"/><rect x="754" y="356" width="1" height="1"/><rect x="757" y="356" width="1" height="1"/><rect x="760" y="356" width="1" height="1"/><rect x="763" y="356" width="1" height="1"/><rect x="766" y="356" width="1" height="1"/><rect x="769" y="356" width="1" height="1"/><rect x="772" y="356" width="1" height="1"/><rect x="775" y="356" width="1" height="1"/><rect x="778" y="356" width="1" height="1"/><rect x="781" y="356" width="1" height="1"/><rect x="784" y="356" width="1" height="1"/><rect x="787" y="356" width="1" height="1"/><rect x="790" y="356" width="1" height="1"/><rect x="793" y="356" width="1" height="1"/><rect x="796" y="356" width="1" height="1"/><rect x="799" y="356" width="1" height="1"/><rect x="802" y="356" width="1" height="1"/><rect x="805" y="356" width="1" height="1"/><rect x="808" y="356" width="1" height="1"/><rect x="811" y="356" width="1" height="1"/><rect x="814" y="356" width="1" height="1"/><rect x="817" y="356" width="1" height="1"/><rect x="820" y="356" width="1" height="1"/><rect x="823" y="356" width="1" height="1"/><rect x="826" y="356" width="1" height="1"/><rect x="829" y="356" width="1" height="1"/><rect x="832" y="356" width="1" height="1"/><rect x="835" y="356" width="1" height="1"/><rect x="838" y="356" width="1" height="1"/><rect x="841" y="356" width="1" height="1"/><rect x="844" y="356" width="1" height="1"/><rect x="847" y="356" width="1" height="1"/><rect x="850" y="356" width="1" height="1"/><rect x="853" y="356" width="1" height="1"/><rect x="856" y="356" width="1" height="1"/><rect x="859" y="356" width="1" height="1"/><rect x="862" y="356" width="1" height="1"/><rect x="865" y="356" width="1" height="1"/><rect x="868" y="356" width="1" height="1"/><rect x="871" y="356" width="1" height="1"/><rect x="874" y="356" width="1" height="1"/><rect x="877" y="356" width="1" height="1"/><rect x="880" y="356" width="1" height="1"/><rect x="883" y="356" width="1" height="1"/><rect x="886" y="356" width="1" height="1"/><rect x="889" y="356" width="1" height="1"/><rect x="892" y="356" width="1" height="1"/><rect x="895" y="356" width="1" height="1"/><rect x="898" y="356" width="1" height="1"/><rect x="901" y="356" width="1" height="1"/><rect x="904" y="356" width="1" height="1"/><rect x="907" y="356" width="1" height="1"/><rect x="910" y="356" width="1" height="1"/><rect x="913" y="356" width="1" height="1"/><rect x="916" y="356" width="1" height="1"/><rect x="919" y="356" width="1" height="1"/><rect x="922" y="356" width="1" height="1"/><rect x="925" y="356" width="1" height="1"/><rect x="928" y="356" width="1" height="1"/><rect x="931" y="356" width="1" height="1"/><rect x="934" y="356" width="1" height="1"/><rect x="937" y="356" width="1" height="1"/><rect x="940" y="356" width="1" height="1"/><rect x="943" y="356" width="1" height="1"/><rect x="946" y="356" width="1" height="1"/><rect x="949" y="356" width="1" height="1"/><rect x="952" y="356" width="1" height="1"/><rect x="955" y="356" width="1" height="1"/><rect x="958" y="356" width="1" height="1"/><rect x="961" y="356" width="1" height="1"/><rect x="964" y="356" width="1" height="1"/><rect x="967" y="356" width="1" height="1"/><rect x="970" y="356" width="1" height="1"/><rect x="973" y="356" width="1" height="1"/><rect x="976" y="356" width="1" height="1"/><rect x="979" y="356" width="1" height="1"/><rect x="982" y="356" width="1" height="1"/><rect x="985" y="356" width="1" height="1"/><rect x="988" y="356" width="1" height="1"/><rect x="991" y="356" width="1" height="1"/><rect x="994" y="356" width="1" height="1"/><rect x="997" y="356" width="1" height="1"/><rect x="1000" y="356" width="1" height="1"/><rect x="1003" y="356" width="1" height="1"/><rect x="1006" y="356" width="1" height="1"/><rect x="1009" y="356" width="1" height="1"/><rect x="1012" y="356" width="1" height="1"/><rect x="1015" y="356" width="1" height="1"/><rect x="1018" y="356" width="1" height="1"/><rect x="1021" y="356" width="1" height="1"/><rect x="1024" y="356" width="1" height="1"/><rect x="1027" y="356" width="1" height="1"/><rect x="1030" y="356" width="1" height="1"/><rect x="1033" y="356" width="1" height="1"/><rect x="1036" y="356" width="1" height="1"/><rect x="1039" y="356" width="1" height="1"/><rect x="1042" y="356" width="1" height="1"/><rect x="1045" y="356" width="1" height="1"/><rect x="1048" y="356" width="1" height="1"/><rect x="1051" y="356" width="1" height="1"/><rect x="1054" y="356" width="1" height="1"/><rect x="1057" y="356" width="1" height="1"/><rect x="1060" y="356" width="1" height="1"/><rect x="1063" y="356" width="1" height="1"/><rect x="1066" y="356" width="1" height="1"/><rect x="1069" y="356" width="1" height="1"/><rect x="1072" y="356" width="1" height="1"/><rect x="1075" y="356" width="1" height="1"/><rect x="1078" y="356" width="1" height="1"/><rect x="1081" y="356" width="1" height="1"/><rect x="1084" y="356" width="1" height="1"/><rect x="1087" y="356" width="1" height="1"/><rect x="1090" y="356" width="1" height="1"/><rect x="1093" y="356" width="1" height="1"/><rect x="1096" y="356" width="1" height="1"/><rect x="1099" y="356" width="1" height="1"/><rect x="1102" y="356" width="1" height="1"/><rect x="1105" y="356" width="1" height="1"/><rect x="1108" y="356" width="1" height="1"/><rect x="1111" y="356" width="1" height="1"/><rect x="1114" y="356" width="1" height="1"/><rect x="1117" y="356" width="1" height="1"/><rect x="1120" y="356" width="1" height="1"/><rect x="1123" y="356" width="1" height="1"/><rect x="1126" y="356" width="1" height="1"/><rect x="1129" y="356" width="1" height="1"/><rect x="1132" y="356" width="1" height="1"/><rect x="1135" y="356" width="1" height="1"/><rect x="1138" y="356" width="1" height="1"/><rect x="1141" y="356" width="1" height="1"/><rect x="1144" y="356" width="1" height="1"/><rect x="1147" y="356" width="1" height="1"/><rect x="1150" y="356" width="1" height="1"/><rect x="1153" y="356" width="1" height="1"/><rect x="1156" y="356" width="1" height="1"/><rect x="1159" y="356" width="1" height="1"/><rect x="1162" y="356" width="1" height="1"/><rect x="1165" y="356" width="1" height="1"/><rect x="1168" y="356" width="1" height="1"/><rect x="1171" y="356" width="1" height="1"/><rect x="1174" y="356" width="1" height="1"/><rect x="1177" y="356" width="1" height="1"/><rect x="1180" y="356" width="1" height="1"/><rect x="1183" y="356" width="1" height="1"/><rect x="1186" y="356" width="1" height="1"/><rect x="1189" y="356" width="1" height="1"/><rect x="1192" y="356" width="1" height="1"/><rect x="1195" y="356" width="1" height="1"/><rect x="1198" y="356" width="1" height="1"/><rect x="1201" y="356" width="1" height="1"/><rect x="1204" y="356" width="1" height="1"/><rect x="1207" y="356" width="1" height="1"/><rect x="1210" y="356" width="1" height="1"/><rect x="1213" y="356" width="1" height="1"/><rect x="1216" y="356" width="1" height="1"/><rect x="1219" y="356" width="1" height="1"/><rect x="1222" y="356" width="1" height="1"/><rect x="1225" y="356" width="1" height="1"/><rect x="1228" y="356" width="1" height="1"/><rect x="1231" y="356" width="1" height="1"/><rect x="1234" y="356" width="1" height="1"/><rect x="1237" y="356" width="1" height="1"/><rect x="1240" y="356" width="1" height="1"/><rect x="1243" y="356" width="1" height="1"/><rect x="1246" y="356" width="1" height="1"/><rect x="1249" y="356" width="1" height="1"/><rect x="1252" y="356" width="1" height="1"/><rect x="1255" y="356" width="1" height="1"/><rect x="1258" y="356" width="1" height="1"/><rect x="1261" y="356" width="1" height="1"/><rect x="1264" y="356" width="1" height="1"/><rect x="1267" y="356" width="1" height="1"/><rect x="1270" y="356" width="1" height="1"/><rect x="1273" y="356" width="1" height="1"/><rect x="1276" y="356" width="1" height="1"/><rect x="1279" y="356" width="1" height="1"/><rect x="1282" y="356" width="1" height="1"/><rect x="1285" y="356" width="1" height="1"/><rect x="1288" y="356" width="1" height="1"/><rect x="1291" y="356" width="1" height="1"/><rect x="1294" y="356" width="1" height="1"/><rect x="1297" y="356" width="1" height="1"/><rect x="1300" y="356" width="1" height="1"/><rect x="1303" y="356" width="1" height="1"/><rect x="1306" y="356" width="1" height="1"/><rect x="1309" y="356" width="1" height="1"/><rect x="1312" y="356" width="1" height="1"/><rect x="1315" y="356" width="1" height="1"/><rect x="1318" y="356" width="1" height="1"/><rect x="1321" y="356" width="1" height="1"/><rect x="1324" y="356" width="1" height="1"/><rect x="1327" y="356" width="1" height="1"/><rect x="1330" y="356" width="1" height="1"/><rect x="1333" y="356" width="1" height="1"/><rect x="1336" y="356" width="1" height="1"/><rect x="1339" y="356" width="1" height="1"/><rect x="1342" y="356" width="1" height="1"/><rect x="1345" y="356" width="1" height="1"/><rect x="1348" y="356" width="1" height="1"/><rect x="1351" y="356" width="1" height="1"/><rect x="1354" y="356" width="1" height="1"/><rect x="1357" y="356" width="1" height="1"/><rect x="1360" y="356" width="1" height="1"/><rect x="1363" y="356" width="1" height="1"/><rect x="1366" y="356" width="1" height="1"/><rect x="1369" y="356" width="1" height="1"/><rect x="1372" y="356" width="1" height="1"/><rect x="1375" y="356" width="1" height="1"/><rect x="1378" y="356" width="1" height="1"/><rect x="1381" y="356" width="1" height="1"/><rect x="1384" y="356" width="1" height="1"/><rect x="1387" y="356" width="1" height="1"/><rect x="1390" y="356" width="1" height="1"/><rect x="1393" y="356" width="1" height="1"/><rect x="1396" y="356" width="1" height="1"/><rect x="1399" y="356" width="1" height="1"/><rect x="1402" y="356" width="1" height="1"/><rect x="1405" y="356" width="1" height="1"/><rect x="1408" y="356" width="1" height="1"/><rect x="1411" y="356" width="1" height="1"/><rect x="1414" y="356" width="1" height="1"/><rect x="1417" y="356" width="1" height="1"/><rect x="1420" y="356" width="1" height="1"/><rect x="1423" y="356" width="1" height="1"/><rect x="1426" y="356" width="1" height="1"/><rect x="1429" y="356" width="1" height="1"/><rect x="1432" y="356" width="1" height="1"/><rect x="1435" y="356" width="1" height="1"/><rect x="1438" y="356" width="1" height="1"/><rect x="1441" y="356" width="1" height="1"/><rect x="1444" y="356" width="1" height="1"/><rect x="1447" y="356" width="1" height="1"/><rect x="1450" y="356" width="1" height="1"/><rect x="1453" y="356" width="1" height="1"/><rect x="1456" y="356" width="1" height="1"/><rect x="1459" y="356" width="1" height="1"/><rect x="1462" y="356" width="1" height="1"/><rect x="1465" y="356" width="1" height="1"/><rect x="1468" y="356" width="1" height="1"/><rect x="1471" y="356" width="1" height="1"/><rect x="1474" y="356" width="1" height="1"/><rect x="1477" y="356" width="1" height="1"/><rect x="1480" y="356" width="1" height="1"/><rect x="1483" y="356" width="1" height="1"/><rect x="1486" y="356" width="1" height="1"/><rect x="1489" y="356" width="1" height="1"/><rect x="1492" y="356" width="1" height="1"/><rect x="1495" y="356" width="1" height="1"/><rect x="1498" y="356" width="1" height="1"/><rect x="1501" y="356" width="1" height="1"/><rect x="1504" y="356" width="1" height="1"/><rect x="1507" y="356" width="1" height="1"/><rect x="1510" y="356" width="1" height="1"/><rect x="1513" y="356" width="1" height="1"/><rect x="1516" y="356" width="1" height="1"/><rect x="1519" y="356" width="1" height="1"/><rect x="1522" y="356" width="1" height="1"/><rect x="1525" y="356" width="1" height="1"/><rect x="1528" y="356" width="1" height="1"/><rect x="1531" y="356" width="1" height="1"/><rect x="1534" y="356" width="1" height="1"/><rect x="1537" y="356" width="1" height="1"/><rect x="1540" y="356" width="1" height="1"/><rect x="1543" y="356" width="1" height="1"/><rect x="1546" y="356" width="1" height="1"/><rect x="1549" y="356" width="1" height="1"/><rect x="1552" y="356" width="1" height="1"/><rect x="1555" y="356" width="1" height="1"/><rect x="1558" y="356" width="1" height="1"/><rect x="1561" y="356" width="1" height="1"/><rect x="1564" y="356" width="1" height="1"/><rect x="1567" y="356" width="1" height="1"/><rect x="1570" y="356" width="1" height="1"/><rect x="1573" y="356" width="1" height="1"/><rect x="1576" y="356" width="1" height="1"/><rect x="1579" y="356" width="1" height="1"/><rect x="1582" y="356" width="1" height="1"/><rect x="1585" y="356" width="1" height="1"/><rect x="1588" y="356" width="1" height="1"/><rect x="1591" y="356" width="1" height="1"/><rect x="1594" y="356" width="1" height="1"/><rect x="1597" y="356" width="1" height="1"/><rect x="1600" y="356" width="1" height="1"/><rect x="1603" y="356" width="1" height="1"/><rect x="1606" y="356" width="1" height="1"/><rect x="1609" y="356" width="1" height="1"/><rect x="1612" y="356" width="1" height="1"/><rect x="1615" y="356" width="1" height="1"/><rect x="1618" y="356" width="1" height="1"/><rect x="1621" y="356" width="1" height="1"/><rect x="1624" y="356" width="1" height="1"/><rect x="1627" y="356" width="1" height="1"/><rect x="1630" y="356" width="1" height="1"/><rect x="1633" y="356" width="1" height="1"/><rect x="1636" y="356" width="1" height="1"/>
</g>
<g shape-rendering="crispEdges" fill="#787b86">
<rect x="10" y="501" width="5" height="1"/><rect x="21" y="501" width="5" height="1"/><rect x="32" y="501" width="5" height="1"/><rect x="43" y="501" width="5" height="1"/><rect x="54" y="501" width="5" height="1"/><rect x="65" y="501" width="5" height="1"/><rect x="76" y="501" width="5" height="1"/><rect x="87" y="501" width="5" height="1"/><rect x="98" y="501" width="5" height="1"/><rect x="109" y="501" width="5" height="1"/><rect x="120" y="501" width="5" height="1"/><rect x="131" y="501" width="5" height="1"/><rect x="142" y="501" width="5" height="1"/><rect x="153" y="501" width="5" height="1"/><rect x="164" y="501" width="5" height="1"/><rect x="175" y="501" width="5" height="1"/><rect x="186" y="501" width="5" height="1"/><rect x="197" y="501" width="5" height="1"/><rect x="208" y="501" width="5" height="1"/><rect x="219" y="501" width="5" height="1"/><rect x="230" y="501" width="5" height="1"/><rect x="241" y="501" width="5" height="1"/><rect x="252" y="501" width="5" height="1"/><rect x="263" y="501" width="5" height="1"/><rect x="274" y="501" width="5" height="1"/><rect x="285" y="501" width="5" height="1"/><rect x="296" y="501" width="5" height="1"/><rect x="307" y="501" width="5" height="1"/><rect x="318" y="501" width="5" height="1"/><rect x="329" y="501" width="5" height="1"/><rect x="340" y="501" width="5" height="1"/><rect x="351" y="501" width="5" height="1"/><rect x="362" y="501" width="5" height="1"/><rect x="373" y="501" width="5" height="1"/><rect x="384" y="501" width="5" height="1"/><rect x="395" y="501" width="5" height="1"/><rect x="406" y="501" width="5" height="1"/><rect x="417" y="501" width="5" height="1"/><rect x="428" y="501" width="5" height="1"/><rect x="439" y="501" width="5" height="1"/><rect x="450" y="501" width="5" height="1"/><rect x="461" y="501" width="5" height="1"/><rect x="472" y="501" width="5" height="1"/><rect x="483" y="501" width="5" height="1"/><rect x="494" y="501" width="5" height="1"/><rect x="505" y="501" width="5" height="1"/><rect x="516" y="501" width="5" height="1"/><rect x="527" y="501" width="5" height="1"/><rect x="538" y="501" width="5" height="1"/><rect x="549" y="501" width="5" height="1"/><rect x="560" y="501" width="5" height="1"/><rect x="571" y="501" width="5" height="1"/><rect x="582" y="501" width="5" height="1"/><rect x="593" y="501" width="5" height="1"/><rect x="604" y="501" width="5" height="1"/><rect x="615" y="501" width="5" height="1"/><rect x="626" y="501" width="5" height="1"/><rect x="637" y="501" width="5" height="1"/><rect x="648" y="501" width="5" height="1"/><rect x="659" y="501" width="5" height="1"/><rect x="670" y="501" width="5" height="1"/><rect x="681" y="501" width="5" height="1"/><rect x="692" y="501" width="5" height="1"/><rect x="703" y="501" width="5" height="1"/><rect x="714" y="501" width="5" height="1"/><rect x="725" y="501" width="5" height="1"/><rect x="736" y="501" width="5" height="1"/><rect x="747" y="501" width="5" height="1"/><rect x="758" y="501" width="5" height="1"/><rect x="769" y="501" width="5" height="1"/><rect x="780" y="501" width="5" height="1"/><rect x="791" y="501" width="5" height="1"/><rect x="802" y="501" width="5" height="1"/><rect x="813" y="501" width="5" height="1"/><rect x="824" y="501" width="5" height="1"/><rect x="835" y="501" width="5" height="1"/><rect x="846" y="501" width="5" height="1"/><rect x="857" y="501" width="5" height="1"/><rect x="868" y="501" width="5" height="1"/><rect x="879" y="501" width="5" height="1"/><rect x="890" y="501" width="5" height="1"/><rect x="901" y="501" width="5" height="1"/><rect x="912" y="501" width="5" height="1"/><rect x="923" y="501" width="5" height="1"/><rect x="934" y="501" width="5" height="1"/><rect x="945" y="501" width="5" height="1"/><rect x="956" y="501" width="5" height="1"/><rect x="967" y="501" width="5" height="1"/><rect x="978" y="501" width="5" height="1"/><rect x="989" y="501" width="5" height="1"/><rect x="1000" y="501" width="5" height="1"/><rect x="1011" y="501" width="5" height="1"/><rect x="1022" y="501" width="5" height="1"/><rect x="1033" y="501" width="5" height="1"/><rect x="1044" y="501" width="5" height="1"/><rect x="1055" y="501" width="5" height="1"/><rect x="1066" y="501" width="5" height="1"/><rect x="1077" y="501" width="5" height="1"/><rect x="1088" y="501" width="5" height="1"/><rect x="1099" y="501" width="5" height="1"/><rect x="1110" y="501" width="5" height="1"/><rect x="1121" y="501" width="5" height="1"/><rect x="1132" y="501" width="5" height="1"/><rect x="1143" y="501" width="5" height="1"/><rect x="1154" y="501" width="5" height="1"/><rect x="1165" y="501" width="5" height="1"/><rect x="1176" y="501" width="5" height="1"/><rect x="1187" y="501" width="5" height="1"/><rect x="1198" y="501" width="5" height="1"/><rect x="1209" y="501" width="5" height="1"/><rect x="1220" y="501" width="5" height="1"/><rect x="1231" y="501" width="5" height="1"/><rect x="1242" y="501" width="5" height="1"/><rect x="1253" y="501" width="5" height="1"/><rect x="1264" y="501" width="5" height="1"/><rect x="1275" y="501" width="5" height="1"/><rect x="1286" y="501" width="5" height="1"/><rect x="1297" y="501" width="5" height="1"/><rect x="1308" y="501" width="5" height="1"/><rect x="1319" y="501" width="5" height="1"/><rect x="1330" y="501" width="5" height="1"/><rect x="1341" y="501" width="5" height="1"/><rect x="1352" y="501" width="5" height="1"/><rect x="1363" y="501" width="5" height="1"/><rect x="1374" y="501" width="5" height="1"/><rect x="1385" y="501" width="5" height="1"/><rect x="1396" y="501" width="5" height="1"/><rect x="1407" y="501" width="5" height="1"/><rect x="1418" y="501" width="5" height="1"/><rect x="1429" y="501" width="5" height="1"/><rect x="1440" y="501" width="5" height="1"/><rect x="1451" y="501" width="5" height="1"/><rect x="1462" y="501" width="5" height="1"/><rect x="1473" y="501" width="5" height="1"/><rect x="1484" y="501" width="5" height="1"/><rect x="1495" y="501" width="5" height="1"/><rect x="1506" y="501" width="5" height="1"/><rect x="1517" y="501" width="5" height="1"/><rect x="1528" y="501" width="5" height="1"/><rect x="1539" y="501" width="5" height="1"/><rect x="1550" y="501" width="5" height="1"/><rect x="1561" y="501" width="5" height="1"/><rect x="1572" y="501" width="5" height="1"/><rect x="1583" y="501" width="5" height="1"/><rect x="1594" y="501" width="5" height="1"/><rect x="1605" y="501" width="5" height="1"/><rect x="1616" y="501" width="5" height="1"/><rect x="1627" y="501" width="5" height="1"/><rect x="1638" y="501" width="1" height="1"/>
<rect x="10" y="553" width="5" height="1"/><rect x="21" y="553" width="5" height="1"/><rect x="32" y="553" width="5" height="1"/><rect x="43" y="553" width="5" height="1"/><rect x="54" y="553" width="5" height="1"/><rect x="65" y="553" width="5" height="1"/><rect x="76" y="553" width="5" height="1"/><rect x="87" y="553" width="5" height="1"/><rect x="98" y="553" width="5" height="1"/><rect x="109" y="553" width="5" height="1"/><rect x="120" y="553" width="5" height="1"/><rect x="131" y="553" width="5" height="1"/><rect x="142" y="553" width="5" height="1"/><rect x="153" y="553" width="5" height="1"/><rect x="164" y="553" width="5" height="1"/><rect x="175" y="553" width="5" height="1"/><rect x="186" y="553" width="5" height="1"/><rect x="197" y="553" width="5" height="1"/><rect x="208" y="553" width="5" height="1"/><rect x="219" y="553" width="5" height="1"/><rect x="230" y="553" width="5" height="1"/><rect x="241" y="553" width="5" height="1"/><rect x="252" y="553" width="5" height="1"/><rect x="263" y="553" width="5" height="1"/><rect x="274" y="553" width="5" height="1"/><rect x="285" y="553" width="5" height="1"/><rect x="296" y="553" width="5" height="1"/><rect x="307" y="553" width="5" height="1"/><rect x="318" y="553" width="5" height="1"/><rect x="329" y="553" width="5" height="1"/><rect x="340" y="553" width="5" height="1"/><rect x="351" y="553" width="5" height="1"/><rect x="362" y="553" width="5" height="1"/><rect x="373" y="553" width="5" height="1"/><rect x="384" y="553" width="5" height="1"/><rect x="395" y="553" width="5" height="1"/><rect x="406" y="553" width="5" height="1"/><rect x="417" y="553" width="5" height="1"/><rect x="428" y="553" width="5" height="1"/><rect x="439" y="553" width="5" height="1"/><rect x="450" y="553" width="5" height="1"/><rect x="461" y="553" width="5" height="1"/><rect x="472" y="553" width="5" height="1"/><rect x="483" y="553" width="5" height="1"/><rect x="494" y="553" width="5" height="1"/><rect x="505" y="553" width="5" height="1"/><rect x="516" y="553" width="5" height="1"/><rect x="527" y="553" width="5" height="1"/><rect x="538" y="553" width="5" height="1"/><rect x="549" y="553" width="5" height="1"/><rect x="560" y="553" width="5" height="1"/><rect x="571" y="553" width="5" height="1"/><rect x="582" y="553" width="5" height="1"/><rect x="593" y="553" width="5" height="1"/><rect x="604" y="553" width="5" height="1"/><rect x="615" y="553" width="5" height="1"/><rect x="626" y="553" width="5" height="1"/><rect x="637" y="553" width="5" height="1"/><rect x="648" y="553" width="5" height="1"/><rect x="659" y="553" width="5" height="1"/><rect x="670" y="553" width="5" height="1"/><rect x="681" y="553" width="5" height="1"/><rect x="692" y="553" width="5" height="1"/><rect x="703" y="553" width="5" height="1"/><rect x="714" y="553" width="5" height="1"/><rect x="725" y="553" width="5" height="1"/><rect x="736" y="553" width="5" height="1"/><rect x="747" y="553" width="5" height="1"/><rect x="758" y="553" width="5" height="1"/><rect x="769" y="553" width="5" height="1"/><rect x="780" y="553" width="5" height="1"/><rect x="791" y="553" width="5" height="1"/><rect x="802" y="553" width="5" height="1"/><rect x="813" y="553" width="5" height="1"/><rect x="824" y="553" width="5" height="1"/><rect x="835" y="553" width="5" height="1"/><rect x="846" y="553" width="5" height="1"/><rect x="857" y="553" width="5" height="1"/><rect x="868" y="553" width="5" height="1"/><rect x="879" y="553" width="5" height="1"/><rect x="890" y="553" width="5" height="1"/><rect x="901" y="553" width="5" height="1"/><rect x="912" y="553" width="5" height="1"/><rect x="923" y="553" width="5" height="1"/><rect x="934" y="553" width="5" height="1"/><rect x="945" y="553" width="5" height="1"/><rect x="956" y="553" width="5" height="1"/><rect x="967" y="553" width="5" height="1"/><rect x="978" y="553" width="5" height="1"/><rect x="989" y="553" width="5" height="1"/><rect x="1000" y="553" width="5" height="1"/><rect x="1011" y="553" width="5" height="1"/><rect x="1022" y="553" width="5" height="1"/><rect x="1033" y="553" width="5" height="1"/><rect x="1044" y="553" width="5" height="1"/><rect x="1055" y="553" width="5" height="1"/><rect x="1066" y="553" width="5" height="1"/><rect x="1077" y="553" width="5" height="1"/><rect x="1088" y="553" width="5" height="1"/><rect x="1099" y="553" width="5" height="1"/><rect x="1110" y="553" width="5" height="1"/><rect x="1121" y="553" width="5" height="1"/><rect x="1132" y="553" width="5" height="1"/><rect x="1143" y="553" width="5" height="1"/><rect x="1154" y="553" width="5" height="1"/><rect x="1165" y="553" width="5" height="1"/><rect x="1176" y="553" width="5" height="1"/><rect x="1187" y="553" width="5" height="1"/><rect x="1198" y="553" width="5" height="1"/><rect x="1209" y="553" width="5" height="1"/><rect x="1220" y="553" width="5" height="1"/><rect x="1231" y="553" width="5" height="1"/><rect x="1242" y="553" width="5" height="1"/><rect x="1253" y="553" width="5" height="1"/><rect x="1264" y="553" width="5" height="1"/><rect x="1275" y="553" width="5" height="1"/><rect x="1286" y="553" width="5" height="1"/><rect x="1297" y="553" width="5" height="1"/><rect x="1308" y="553" width="5" height="1"/><rect x="1319" y="553" width="5" height="1"/><rect x="1330" y="553" width="5" height="1"/><rect x="1341" y="553" width="5" height="1"/><rect x="1352" y="553" width="5" height="1"/><rect x="1363" y="553" width="5" height="1"/><rect x="1374" y="553" width="5" height="1"/><rect x="1385" y="553" width="5" height="1"/><rect x="1396" y="553" width="5" height="1"/><rect x="1407" y="553" width="5" height="1"/><rect x="1418" y="553" width="5" height="1"/><rect x="1429" y="553" width="5" height="1"/><rect x="1440" y="553" width="5" height="1"/><rect x="1451" y="553" width="5" height="1"/><rect x="1462" y="553" width="5" height="1"/><rect x="1473" y="553" width="5" height="1"/><rect x="1484" y="553" width="5" height="1"/><rect x="1495" y="553" width="5" height="1"/><rect x="1506" y="553" width="5" height="1"/><rect x="1517" y="553" width="5" height="1"/><rect x="1528" y="553" width="5" height="1"/><rect x="1539" y="553" width="5" height="1"/><rect x="1550" y="553" width="5" height="1"/><rect x="1561" y="553" width="5" height="1"/><rect x="1572" y="553" width="5" height="1"/><rect x="1583" y="553" width="5" height="1"/><rect x="1594" y="553" width="5" height="1"/><rect x="1605" y="553" width="5" height="1"/><rect x="1616" y="553" width="5" height="1"/><rect x="1627" y="553" width="5" height="1"/><rect x="1638" y="553" width="1" height="1"/>
<rect x="10" y="605" width="5" height="1"/><rect x="21" y="605" width="5" height="1"/><rect x="32" y="605" width="5" height="1"/><rect x="43" y="605" width="5" height="1"/><rect x="54" y="605" width="5" height="1"/><rect x="65" y="605" width="5" height="1"/><rect x="76" y="605" width="5" height="1"/><rect x="87" y="605" width="5" height="1"/><rect x="98" y="605" width="5" height="1"/><rect x="109" y="605" width="5" height="1"/><rect x="120" y="605" width="5" height="1"/><rect x="131" y="605" width="5" height="1"/><rect x="142" y="605" width="5" height="1"/><rect x="153" y="605" width="5" height="1"/><rect x="164" y="605" width="5" height="1"/><rect x="175" y="605" width="5" height="1"/><rect x="186" y="605" width="5" height="1"/><rect x="197" y="605" width="5" height="1"/><rect x="208" y="605" width="5" height="1"/><rect x="219" y="605" width="5" height="1"/><rect x="230" y="605" width="5" height="1"/><rect x="241" y="605" width="5" height="1"/><rect x="252" y="605" width="5" height="1"/><rect x="263" y="605" width="5" height="1"/><rect x="274" y="605" width="5" height="1"/><rect x="285" y="605" width="5" height="1"/><rect x="296" y="605" width="5" height="1"/><rect x="307" y="605" width="5" height="1"/><rect x="318" y="605" width="5" height="1"/><rect x="329" y="605" width="5" height="1"/><rect x="340" y="605" width="5" height="1"/><rect x="351" y="605" width="5" height="1"/><rect x="362" y="605" width="5" height="1"/><rect x="373" y="605" width="5" height="1"/><rect x="384" y="605" width="5" height="1"/><rect x="395" y="605" width="5" height="1"/><rect x="406" y="605" width="5" height="1"/><rect x="417" y="605" width="5" height="1"/><rect x="428" y="605" width="5" height="1"/><rect x="439" y="605" width="5" height="1"/><rect x="450" y="605" width="5" height="1"/><rect x="461" y="605" width="5" height="1"/><rect x="472" y="605" width="5" height="1"/><rect x="483" y="605" width="5" height="1"/><rect x="494" y="605" width="5" height="1"/><rect x="505" y="605" width="5" height="1"/><rect x="516" y="605" width="5" height="1"/><rect x="527" y="605" width="5" height="1"/><rect x="538" y="605" width="5" height="1"/><rect x="549" y="605" width="5" height="1"/><rect x="560" y="605" width="5" height="1"/><rect x="571" y="605" width="5" height="1"/><rect x="582" y="605" width="5" height="1"/><rect x="593" y="605" width="5" height="1"/><rect x="604" y="605" width="5" height="1"/><rect x="615" y="605" width="5" height="1"/><rect x="626" y="605" width="5" height="1"/><rect x="637" y="605" width="5" height="1"/><rect x="648" y="605" width="5" height="1"/><rect x="659" y="605" width="5" height="1"/><rect x="670" y="605" width="5" height="1"/><rect x="681" y="605" width="5" height="1"/><rect x="692" y="605" width="5" height="1"/><rect x="703" y="605" width="5" height="1"/><rect x="714" y="605" width="5" height="1"/><rect x="725" y="605" width="5" height="1"/><rect x="736" y="605" width="5" height="1"/><rect x="747" y="605" width="5" height="1"/><rect x="758" y="605" width="5" height="1"/><rect x="769" y="605" width="5" height="1"/><rect x="780" y="605" width="5" height="1"/><rect x="791" y="605" width="5" height="1"/><rect x="802" y="605" width="5" height="1"/><rect x="813" y="605" width="5" height="1"/><rect x="824" y="605" width="5" height="1"/><rect x="835" y="605" width="5" height="1"/><rect x="846" y="605" width="5" height="1"/><rect x="857" y="605" width="5" height="1"/><rect x="868" y="605" width="5" height="1"/><rect x="879" y="605" width="5" height="1"/><rect x="890" y="605" width="5" height="1"/><rect x="901" y="605" width="5" height="1"/><rect x="912" y="605" width="5" height="1"/><rect x="923" y="605" width="5" height="1"/><rect x="934" y="605" width="5" height="1"/><rect x="945" y="605" width="5" height="1"/><rect x="956" y="605" width="5" height="1"/><rect x="967" y="605" width="5" height="1"/><rect x="978" y="605" width="5" height="1"/><rect x="989" y="605" width="5" height="1"/><rect x="1000" y="605" width="5" height="1"/><rect x="1011" y="605" width="5" height="1"/><rect x="1022" y="605" width="5" height="1"/><rect x="1033" y="605" width="5" height="1"/><rect x="1044" y="605" width="5" height="1"/><rect x="1055" y="605" width="5" height="1"/><rect x="1066" y="605" width="5" height="1"/><rect x="1077" y="605" width="5" height="1"/><rect x="1088" y="605" width="5" height="1"/><rect x="1099" y="605" width="5" height="1"/><rect x="1110" y="605" width="5" height="1"/><rect x="1121" y="605" width="5" height="1"/><rect x="1132" y="605" width="5" height="1"/><rect x="1143" y="605" width="5" height="1"/><rect x="1154" y="605" width="5" height="1"/><rect x="1165" y="605" width="5" height="1"/><rect x="1176" y="605" width="5" height="1"/><rect x="1187" y="605" width="5" height="1"/><rect x="1198" y="605" width="5" height="1"/><rect x="1209" y="605" width="5" height="1"/><rect x="1220" y="605" width="5" height="1"/><rect x="1231" y="605" width="5" height="1"/><rect x="1242" y="605" width="5" height="1"/><rect x="1253" y="605" width="5" height="1"/><rect x="1264" y="605" width="5" height="1"/><rect x="1275" y="605" width="5" height="1"/><rect x="1286" y="605" width="5" height="1"/><rect x="1297" y="605" width="5" height="1"/><rect x="1308" y="605" width="5" height="1"/><rect x="1319" y="605" width="5" height="1"/><rect x="1330" y="605" width="5" height="1"/><rect x="1341" y="605" width="5" height="1"/><rect x="1352" y="605" width="5" height="1"/><rect x="1363" y="605" width="5" height="1"/><rect x="1374" y="605" width="5" height="1"/><rect x="1385" y="605" width="5" height="1"/><rect x="1396" y="605" width="5" height="1"/><rect x="1407" y="605" width="5" height="1"/><rect x="1418" y="605" width="5" height="1"/><rect x="1429" y="605" width="5" height="1"/><rect x="1440" y="605" width="5" height="1"/><rect x="1451" y="605" width="5" height="1"/><rect x="1462" y="605" width="5" height="1"/><rect x="1473" y="605" width="5" height="1"/><rect x="1484" y="605" width="5" height="1"/><rect x="1495" y="605" width="5" height="1"/><rect x="1506" y="605" width="5" height="1"/><rect x="1517" y="605" width="5" height="1"/><rect x="1528" y="605" width="5" height="1"/><rect x="1539" y="605" width="5" height="1"/><rect x="1550" y="605" width="5" height="1"/><rect x="1561" y="605" width="5" height="1"/><rect x="1572" y="605" width="5" height="1"/><rect x="1583" y="605" width="5" height="1"/><rect x="1594" y="605" width="5" height="1"/><rect x="1605" y="605" width="5" height="1"/><rect x="1616" y="605" width="5" height="1"/><rect x="1627" y="605" width="5" height="1"/><rect x="1638" y="605" width="1" height="1"/>
<rect x="10" y="678" width="5" height="1"/><rect x="21" y="678" width="5" height="1"/><rect x="32" y="678" width="5" height="1"/><rect x="43" y="678" width="5" height="1"/><rect x="54" y="678" width="5" height="1"/><rect x="65" y="678" width="5" height="1"/><rect x="76" y="678" width="5" height="1"/><rect x="87" y="678" width="5" height="1"/><rect x="98" y="678" width="5" height="1"/><rect x="109" y="678" width="5" height="1"/><rect x="120" y="678" width="5" height="1"/><rect x="131" y="678" width="5" height="1"/><rect x="142" y="678" width="5" height="1"/><rect x="153" y="678" width="5" height="1"/><rect x="164" y="678" width="5" height="1"/><rect x="175" y="678" width="5" height="1"/><rect x="186" y="678" width="5" height="1"/><rect x="197" y="678" width="5" height="1"/><rect x="208" y="678" width="5" height="1"/><rect x="219" y="678" width="5" height="1"/><rect x="230" y="678" width="5" height="1"/><rect x="241" y="678" width="5" height="1"/><rect x="252" y="678" width="5" height="1"/><rect x="263" y="678" width="5" height="1"/><rect x="274" y="678" width="5" height="1"/><rect x="285" y="678" width="5" height="1"/><rect x="296" y="678" width="5" height="1"/><rect x="307" y="678" width="5" height="1"/><rect x="318" y="678" width="5" height="1"/><rect x="329" y="678" width="5" height="1"/><rect x="340" y="678" width="5" height="1"/><rect x="351" y="678" width="5" height="1"/><rect x="362" y="678" width="5" height="1"/><rect x="373" y="678" width="5" height="1"/><rect x="384" y="678" width="5" height="1"/><rect x="395" y="678" width="5" height="1"/><rect x="406" y="678" width="5" height="1"/><rect x="417" y="678" width="5" height="1"/><rect x="428" y="678" width="5" height="1"/><rect x="439" y="678" width="5" height="1"/><rect x="450" y="678" width="5" height="1"/><rect x="461" y="678" width="5" height="1"/><rect x="472" y="678" width="5" height="1"/><rect x="483" y="678" width="5" height="1"/><rect x="494" y="678" width="5" height="1"/><rect x="505" y="678" width="5" height="1"/><rect x="516" y="678" width="5" height="1"/><rect x="527" y="678" width="5" height="1"/><rect x="538" y="678" width="5" height="1"/><rect x="549" y="678" width="5" height="1"/><rect x="560" y="678" width="5" height="1"/><rect x="571" y="678" width="5" height="1"/><rect x="582" y="678" width="5" height="1"/><rect x="593" y="678" width="5" height="1"/><rect x="604" y="678" width="5" height="1"/><rect x="615" y="678" width="5" height="1"/><rect x="626" y="678" width="5" height="1"/><rect x="637" y="678" width="5" height="1"/><rect x="648" y="678" width="5" height="1"/><rect x="659" y="678" width="5" height="1"/><rect x="670" y="678" width="5" height="1"/><rect x="681" y="678" width="5" height="1"/><rect x="692" y="678" width="5" height="1"/><rect x="703" y="678" width="5" height="1"/><rect x="714" y="678" width="5" height="1"/><rect x="725" y="678" width="5" height="1"/><rect x="736" y="678" width="5" height="1"/><rect x="747" y="678" width="5" height="1"/><rect x="758" y="678" width="5" height="1"/><rect x="769" y="678" width="5" height="1"/><rect x="780" y="678" width="5" height="1"/><rect x="791" y="678" width="5" height="1"/><rect x="802" y="678" width="5" height="1"/><rect x="813" y="678" width="5" height="1"/><rect x="824" y="678" width="5" height="1"/><rect x="835" y="678" width="5" height="1"/><rect x="846" y="678" width="5" height="1"/><rect x="857" y="678" width="5" height="1"/><rect x="868" y="678" width="5" height="1"/><rect x="879" y="678" width="5" height="1"/><rect x="890" y="678" width="5" height="1"/><rect x="901" y="678" width="5" height="1"/><rect x="912" y="678" width="5" height="1"/><rect x="923" y="678" width="5" height="1"/><rect x="934" y="678" width="5" height="1"/><rect x="945" y="678" width="5" height="1"/><rect x="956" y="678" width="5" height="1"/><rect x="967" y="678" width="5" height="1"/><rect x="978" y="678" width="5" height="1"/><rect x="989" y="678" width="5" height="1"/><rect x="1000" y="678" width="5" height="1"/><rect x="1011" y="678" width="5" height="1"/><rect x="1022" y="678" width="5" height="1"/><rect x="1033" y="678" width="5" height="1"/><rect x="1044" y="678" width="5" height="1"/><rect x="1055" y="678" width="5" height="1"/><rect x="1066" y="678" width="5" height="1"/><rect x="1077" y="678" width="5" height="1"/><rect x="1088" y="678" width="5" height="1"/><rect x="1099" y="678" width="5" height="1"/><rect x="1110" y="678" width="5" height="1"/><rect x="1121" y="678" width="5" height="1"/><rect x="1132" y="678" width="5" height="1"/><rect x="1143" y="678" width="5" height="1"/><rect x="1154" y="678" width="5" height="1"/><rect x="1165" y="678" width="5" height="1"/><rect x="1176" y="678" width="5" height="1"/><rect x="1187" y="678" width="5" height="1"/><rect x="1198" y="678" width="5" height="1"/><rect x="1209" y="678" width="5" height="1"/><rect x="1220" y="678" width="5" height="1"/><rect x="1231" y="678" width="5" height="1"/><rect x="1242" y="678" width="5" height="1"/><rect x="1253" y="678" width="5" height="1"/><rect x="1264" y="678" width="5" height="1"/><rect x="1275" y="678" width="5" height="1"/><rect x="1286" y="678" width="5" height="1"/><rect x="1297" y="678" width="5" height="1"/><rect x="1308" y="678" width="5" height="1"/><rect x="1319" y="678" width="5" height="1"/><rect x="1330" y="678" width="5" height="1"/><rect x="1341" y="678" width="5" height="1"/><rect x="1352" y="678" width="5" height="1"/><rect x="1363" y="678" width="5" height="1"/><rect x="1374" y="678" width="5" height="1"/><rect x="1385" y="678" width="5" height="1"/><rect x="1396" y="678" width="5" height="1"/><rect x="1407" y="678" width="5" height="1"/><rect x="1418" y="678" width="5" height="1"/><rect x="1429" y="678" width="5" height="1"/><rect x="1440" y="678" width="5" height="1"/><rect x="1451" y="678" width="5" height="1"/><rect x="1462" y="678" width="5" height="1"/><rect x="1473" y="678" width="5" height="1"/><rect x="1484" y="678" width="5" height="1"/><rect x="1495" y="678" width="5" height="1"/><rect x="1506" y="678" width="5" height="1"/><rect x="1517" y="678" width="5" height="1"/><rect x="1528" y="678" width="5" height="1"/><rect x="1539" y="678" width="5" height="1"/><rect x="1550" y="678" width="5" height="1"/><rect x="1561" y="678" width="5" height="1"/><rect x="1572" y="678" width="5" height="1"/><rect x="1583" y="678" width="5" height="1"/><rect x="1594" y="678" width="5" height="1"/><rect x="1605" y="678" width="5" height="1"/><rect x="1616" y="678" width="5" height="1"/><rect x="1627" y="678" width="5" height="1"/><rect x="1638" y="678" width="1" height="1"/>
</g>
<polyline clip-path="url(#cp)" points="7.7,585.2 16.8,588.7 25.9,604.7 34.9,609.0 44.0,610.2 53.0,586.7 62.1,593.1 71.2,587.9 80.2,588.2 89.3,569.5 98.4,570.5 107.4,558.4 116.5,569.5 125.6,559.5 134.6,575.8 143.7,559.1 152.8,555.3 161.8,543.7 170.9,541.6 180.0,546.8 189.0,548.9 198.1,537.8 207.1,542.0 216.2,535.3 225.3,525.8 234.3,509.2 243.4,516.9 252.5,516.6 261.5,522.3 270.6,524.0 279.7,538.8 288.7,542.3 297.8,530.4 306.9,526.2 315.9,527.5 325.0,553.7 334.1,542.0 343.1,535.9 352.2,518.1 361.2,529.7 370.3,534.6 379.4,527.5 388.4,561.6 397.5,571.9 406.6,578.6 415.6,554.4 424.7,573.2 433.8,580.8 442.8,571.2 451.9,569.0 461.0,568.0 470.0,578.9 479.1,581.5 488.2,566.0 497.2,571.6 506.3,580.3 515.3,571.4 524.4,567.9 533.5,557.8 542.5,555.8 551.6,540.8 560.7,533.2 569.7,525.5 578.8,531.7 587.9,536.6 596.9,530.7 606.0,519.5 615.1,509.2 624.1,515.6 633.2,514.2 642.3,503.8 651.3,524.2 660.4,530.4 669.5,527.9 678.5,543.9 687.6,549.9 696.6,547.6 705.7,542.9 714.8,558.3 723.8,560.8 732.9,556.0 742.0,570.3 751.0,525.7 760.1,516.1 769.2,524.9 778.2,528.7 787.3,530.3 796.4,531.4 805.4,526.4 814.5,508.9 823.6,504.7 832.6,523.4 841.7,510.3 850.7,497.6 859.8,490.4 868.9,487.2 877.9,504.0 887.0,490.8 896.1,502.7 905.1,498.8 914.2,522.0 923.3,535.1 932.3,544.0 941.4,538.3 950.5,546.7 959.5,536.3 968.6,529.9 977.7,538.3 986.7,553.3 995.8,557.6 1004.8,559.5 1013.9,541.5 1023.0,541.2 1032.0,526.4 1041.1,533.3 1050.2,531.9 1059.2,521.0 1068.3,520.5 1077.4,540.2 1086.4,523.2 1095.5,538.6 1104.6,527.8 1113.6,532.5 1122.7,541.8 1131.8,560.6 1140.8,566.3 1149.9,569.2 1158.9,583.5 1168.0,582.5 1177.1,580.6 1186.1,589.9 1195.2,591.7 1204.3,589.0 1213.3,595.9 1222.4,599.3 1231.5,606.0 1240.5,612.2 1249.6,595.4 1258.7,606.0 1267.7,608.8 1276.8,612.2 1285.9,591.2 1294.9,598.1 1304.0,590.7 1313.1,588.2 1322.1,572.3 1331.2,561.6 1340.2,575.9 1349.3,560.3 1358.4,545.5 1367.4,588.5 1376.5,570.7 1385.6,585.0 1394.6,593.6 1403.7,598.3 1412.8,605.8 1421.8,610.7 1430.9,608.3 1440.0,589.7 1449.0,589.7 1458.1,598.3 1467.2,606.0 1476.2,613.2 1485.3,591.5 1494.3,593.2 1503.4,572.2 1512.5,574.1 1521.5,567.7 1530.6,581.6 1539.7,579.3 1548.7,578.6 1557.8,560.0 1566.9,564.5 1575.9,567.2 1585.0,575.2" fill="none" stroke="#7e57c2" stroke-width="2" stroke-linejoin="round" stroke-linecap="round"/>
<polyline clip-path="url(#cp)" points="7.7,689.7 16.8,687.3 25.9,699.1 34.9,695.0 44.0,699.7 53.0,701.7 62.1,706.0 71.2,704.5 80.2,707.4 89.3,700.5 98.4,684.7 107.4,677.4 116.5,671.7 125.6,664.4 134.6,671.4 143.7,672.7 152.8,666.4 161.8,663.4 170.9,661.7 180.0,671.4 189.0,671.1 198.1,671.1 207.1,667.0 216.2,668.4 225.3,656.4 234.3,653.7 243.4,658.4 252.5,663.0 261.5,666.4 270.6,664.0 279.7,667.7 288.7,674.1 297.8,667.4 306.9,668.7 315.9,673.4 325.0,690.8 334.1,683.4 343.1,681.4 352.2,671.1 361.2,674.7 370.3,672.1 379.4,667.4 388.4,685.1 397.5,692.1 406.6,695.1 415.6,676.7 424.7,692.1 433.8,699.1 442.8,702.8 451.9,698.1 461.0,696.1 470.0,705.5 479.1,694.1 488.2,682.4 497.2,682.1 506.3,697.1 515.3,682.7 524.4,676.7 533.5,677.7 542.5,677.7 551.6,671.7 560.7,662.4 569.7,657.0 578.8,666.0 587.9,664.0 596.9,656.7 606.0,655.0 615.1,650.7 624.1,656.7 633.2,656.4 642.3,656.7 651.3,666.7 660.4,672.7 669.5,668.4 678.5,672.7 687.6,677.4 696.6,681.7 705.7,685.7 714.8,688.8 723.8,690.8 732.9,694.8 742.0,693.4 751.0,673.7 760.1,669.7 769.2,667.4 778.2,666.7 787.3,668.0 796.4,670.0 805.4,662.4 814.5,652.3 823.6,651.7 832.6,652.3 841.7,662.4 850.7,659.4 859.8,649.7 868.9,645.7 877.9,651.0 887.0,639.0 896.1,646.0 905.1,651.3 914.2,663.4 923.3,663.4 932.3,675.4 941.4,680.4 950.5,691.1 959.5,687.8 968.6,678.1 977.7,693.8 986.7,696.4 995.8,702.1 1004.8,693.8 1013.9,678.7 1023.0,674.1 1032.0,669.7 1041.1,668.4 1050.2,673.4 1059.2,671.4 1068.3,667.0 1077.4,667.4 1086.4,655.4 1095.5,661.4 1104.6,663.7 1113.6,666.0 1122.7,678.4 1131.8,685.1 1140.8,689.1 1149.9,696.8 1158.9,706.1 1168.0,697.4 1177.1,706.8 1186.1,706.1 1195.2,713.8 1204.3,710.5 1213.3,710.8 1222.4,703.1 1231.5,704.8 1240.5,707.5 1249.6,693.1 1258.7,701.4 1267.7,704.5 1276.8,700.8 1285.9,692.8 1294.9,699.1 1304.0,691.8 1313.1,688.8 1322.1,678.7 1331.2,670.4 1340.2,683.4 1349.3,669.7 1358.4,660.4 1367.4,685.1 1376.5,682.1 1385.6,689.4 1394.6,701.1 1403.7,706.8 1412.8,720.8 1421.8,730.8 1430.9,721.8 1440.0,718.8 1449.0,725.5 1458.1,706.5 1467.2,724.8 1476.2,721.8 1485.3,701.4 1494.3,698.8 1503.4,677.4 1512.5,673.4 1521.5,670.4 1530.6,692.1 1539.7,690.8 1548.7,681.7 1557.8,663.4 1566.9,657.0 1575.9,670.4 1585.0,673.7" fill="none" stroke="#2196f3" stroke-width="2" stroke-linejoin="round" stroke-linecap="round"/>
<text x="1647.37" y="22.9" font-size="12" fill="#131722" stroke="#131722" stroke-width="0.15" textLength="48.13" lengthAdjust="spacingAndGlyphs">1.13000</text>
<text x="1647.37" y="65.9" font-size="12" fill="#131722" stroke="#131722" stroke-width="0.15" textLength="48.13" lengthAdjust="spacingAndGlyphs">1.12000</text>
<text x="1647.39" y="108.9" font-size="12" fill="#131722" stroke="#131722" stroke-width="0.15" textLength="48.35" lengthAdjust="spacingAndGlyphs">1.11000</text>
<text x="1647.37" y="151.9" font-size="12" fill="#131722" stroke="#131722" stroke-width="0.15" textLength="48.13" lengthAdjust="spacingAndGlyphs">1.10000</text>
<text x="1647.37" y="194.9" font-size="12" fill="#131722" stroke="#131722" stroke-width="0.15" textLength="48.13" lengthAdjust="spacingAndGlyphs">1.09000</text>
<text x="1647.37" y="236.9" font-size="12" fill="#131722" stroke="#131722" stroke-width="0.15" textLength="48.13" lengthAdjust="spacingAndGlyphs">1.08000</text>
<text x="1647.37" y="279.9" font-size="12" fill="#131722" stroke="#131722" stroke-width="0.15" textLength="48.13" lengthAdjust="spacingAndGlyphs">1.07000</text>
<text x="1647.37" y="322.9" font-size="12" fill="#131722" stroke="#131722" stroke-width="0.15" textLength="48.13" lengthAdjust="spacingAndGlyphs">1.06000</text>
<text x="1647.37" y="365.9" font-size="12" fill="#131722" stroke="#131722" stroke-width="0.15" textLength="48.13" lengthAdjust="spacingAndGlyphs">1.05000</text>
<text x="1647.37" y="408.9" font-size="12" fill="#131722" stroke="#131722" stroke-width="0.15" textLength="48.13" lengthAdjust="spacingAndGlyphs">1.04000</text>
<text x="1647.37" y="450.9" font-size="12" fill="#131722" stroke="#131722" stroke-width="0.15" textLength="48.13" lengthAdjust="spacingAndGlyphs">1.03000</text>
<text x="1647.22" y="478.9" font-size="12" fill="#131722" stroke="#131722" stroke-width="0.15" textLength="33.58" lengthAdjust="spacingAndGlyphs" clip-path="url(#cr)">80.00</text>
<text x="1647.14" y="530.9" font-size="12" fill="#131722" stroke="#131722" stroke-width="0.15" textLength="33.67" lengthAdjust="spacingAndGlyphs" clip-path="url(#cr)">60.00</text>
<text x="1647.42" y="582.9" font-size="12" fill="#131722" stroke="#131722" stroke-width="0.15" textLength="33.24" lengthAdjust="spacingAndGlyphs" clip-path="url(#cr)">40.00</text>
<path d="M1639 348h60q2 0 2 2v13q0 2 -2 2h-60z" fill="#e60000"/>
<path d="M1639 567h45q2 0 2 2v13q0 2 -2 2h-45z" fill="#7e57c2"/>
<path d="M1639 666h60q2 0 2 2v13q0 2 -2 2h-60z" fill="#2196f3"/>
<text x="1647.32" y="361" font-size="12" fill="#ffffff" stroke="#ffffff" stroke-width="0.08" textLength="48.27" lengthAdjust="spacingAndGlyphs">1.05122</text>
<text x="1647.42" y="580" font-size="12" fill="#ffffff" stroke="#ffffff" stroke-width="0.08" textLength="33.24" lengthAdjust="spacingAndGlyphs">41.30</text>
<text x="1647.56" y="679" font-size="12" fill="#ffffff" stroke="#ffffff" stroke-width="0.08" textLength="48.02" lengthAdjust="spacingAndGlyphs">0.00313</text>
<text x="17.93" y="759" font-size="12" fill="#131722" stroke="#131722" stroke-width="0.15" textLength="15.39" lengthAdjust="spacingAndGlyphs">12</text>
<text x="130.88" y="759" font-size="12" fill="#131722" stroke="#131722" stroke-width="0.05" textLength="24.63" lengthAdjust="spacingAndGlyphs" font-weight="bold">May</text>
<text x="218.26" y="759" font-size="12" fill="#131722" stroke="#131722" stroke-width="0.15" textLength="14.35" lengthAdjust="spacingAndGlyphs">14</text>
<text x="340.90" y="759" font-size="12" fill="#131722" stroke="#131722" stroke-width="0.05" textLength="22.21" lengthAdjust="spacingAndGlyphs" font-weight="bold">Jun</text>
<text x="426.52" y="759" font-size="12" fill="#131722" stroke="#131722" stroke-width="0.15" textLength="14.00" lengthAdjust="spacingAndGlyphs">14</text>
<text x="524.36" y="759" font-size="12" fill="#131722" stroke="#131722" stroke-width="0.05" textLength="18.43" lengthAdjust="spacingAndGlyphs" font-weight="bold">Jul</text>
<text x="608.16" y="759" font-size="12" fill="#131722" stroke="#131722" stroke-width="0.15" textLength="14.10" lengthAdjust="spacingAndGlyphs">12</text>
<text x="730.09" y="759" font-size="12" fill="#131722" stroke="#131722" stroke-width="0.05" textLength="23.81" lengthAdjust="spacingAndGlyphs" font-weight="bold">Aug</text>
<text x="816.53" y="759" font-size="12" fill="#131722" stroke="#131722" stroke-width="0.15" textLength="13.93" lengthAdjust="spacingAndGlyphs">14</text>
<text x="929.86" y="759" font-size="12" fill="#131722" stroke="#131722" stroke-width="0.05" textLength="23.28" lengthAdjust="spacingAndGlyphs" font-weight="bold">Sep</text>
<text x="1016.28" y="759" font-size="12" fill="#131722" stroke="#131722" stroke-width="0.15" textLength="14.23" lengthAdjust="spacingAndGlyphs">13</text>
<text x="1121.06" y="759" font-size="12" fill="#131722" stroke="#131722" stroke-width="0.05" textLength="20.90" lengthAdjust="spacingAndGlyphs" font-weight="bold">Oct</text>
<text x="1205.92" y="759" font-size="12" fill="#131722" stroke="#131722" stroke-width="0.15" textLength="14.37" lengthAdjust="spacingAndGlyphs">14</text>
<text x="1327.88" y="759" font-size="12" fill="#131722" stroke="#131722" stroke-width="0.05" textLength="23.57" lengthAdjust="spacingAndGlyphs" font-weight="bold">Nov</text>
<text x="1414.66" y="759" font-size="12" fill="#131722" stroke="#131722" stroke-width="0.15" textLength="14.02" lengthAdjust="spacingAndGlyphs">14</text>
<text x="1518.72" y="759" font-size="12" fill="#131722" stroke="#131722" stroke-width="0.05" textLength="23.45" lengthAdjust="spacingAndGlyphs" font-weight="bold">Dec</text>
<text x="1604.74" y="759" font-size="12" fill="#131722" stroke="#131722" stroke-width="0.15" textLength="14.47" lengthAdjust="spacingAndGlyphs">13</text>
<text x="17.81" y="30" font-size="12.2" fill="#131722" stroke="#131722" stroke-width="0.3" textLength="103.53" lengthAdjust="spacingAndGlyphs">EUR/USD Spot, 1D</text>
<text x="128.64" y="30" font-size="12.2" fill="#131722" stroke="#131722" stroke-width="0.3" textLength="9.09" lengthAdjust="spacingAndGlyphs">O</text>
<text x="137.68" y="30" font-size="12.2" fill="#e60000" stroke="#e60000" stroke-width="0.3" textLength="45.40" lengthAdjust="spacingAndGlyphs">1.05504</text>
<text x="190.13" y="30" font-size="12.2" fill="#131722" stroke="#131722" stroke-width="0.3" textLength="10.45" lengthAdjust="spacingAndGlyphs">H</text>
<text x="199.62" y="30" font-size="12.2" fill="#e60000" stroke="#e60000" stroke-width="0.3" textLength="44.97" lengthAdjust="spacingAndGlyphs">1.05682</text>
<text x="252.42" y="30" font-size="12.2" fill="#131722" stroke="#131722" stroke-width="0.3" textLength="5.38" lengthAdjust="spacingAndGlyphs">L</text>
<text x="259.06" y="30" font-size="12.2" fill="#e60000" stroke="#e60000" stroke-width="0.3" textLength="45.75" lengthAdjust="spacingAndGlyphs">1.04985</text>
<text x="312.11" y="30" font-size="12.2" fill="#131722" stroke="#131722" stroke-width="0.3" textLength="8.37" lengthAdjust="spacingAndGlyphs">C</text>
<text x="320.96" y="30" font-size="12.2" fill="#e60000" stroke="#e60000" stroke-width="0.3" textLength="42.76" lengthAdjust="spacingAndGlyphs">1.05122</text>
<text x="370.72" y="30" font-size="12.2" fill="#e60000" stroke="#e60000" stroke-width="0.3" textLength="54.43" lengthAdjust="spacingAndGlyphs">−0.00379</text>
<text x="429.58" y="30" font-size="12.2" fill="#e60000" stroke="#e60000" stroke-width="0.3" textLength="51.84" lengthAdjust="spacingAndGlyphs">(−0.36%)</text>
<text x="17.83" y="492" font-size="12.2" fill="#131722" stroke="#131722" stroke-width="0.3" textLength="44.03" lengthAdjust="spacingAndGlyphs">RSI (14)</text>
<text x="69.94" y="492" font-size="12.2" fill="#7e57c2" stroke="#7e57c2" stroke-width="0.3" textLength="30.61" lengthAdjust="spacingAndGlyphs">41.30</text>
<text x="18.16" y="648" font-size="12.2" fill="#131722" stroke="#131722" stroke-width="0.3" textLength="89.36" lengthAdjust="spacingAndGlyphs">Mom (10, close)</text>
<text x="115.23" y="648" font-size="12.2" fill="#2196f3" stroke="#2196f3" stroke-width="0.3" textLength="45.41" lengthAdjust="spacingAndGlyphs">0.00313</text>
<text x="33.41" y="790.8" font-size="12.5" fill="#131722" stroke="#131722" stroke-width="0.25" textLength="73.80" lengthAdjust="spacingAndGlyphs">TradingView</text>
<g transform="translate(10,777.8) scale(0.553)" fill="#131722"><path d="M14 22H7V11H0V4h14v18zM28 22h-8l7.5-18h8L28 22z"/><circle cx="20" cy="8" r="4"/></g>
</svg></body></html>
